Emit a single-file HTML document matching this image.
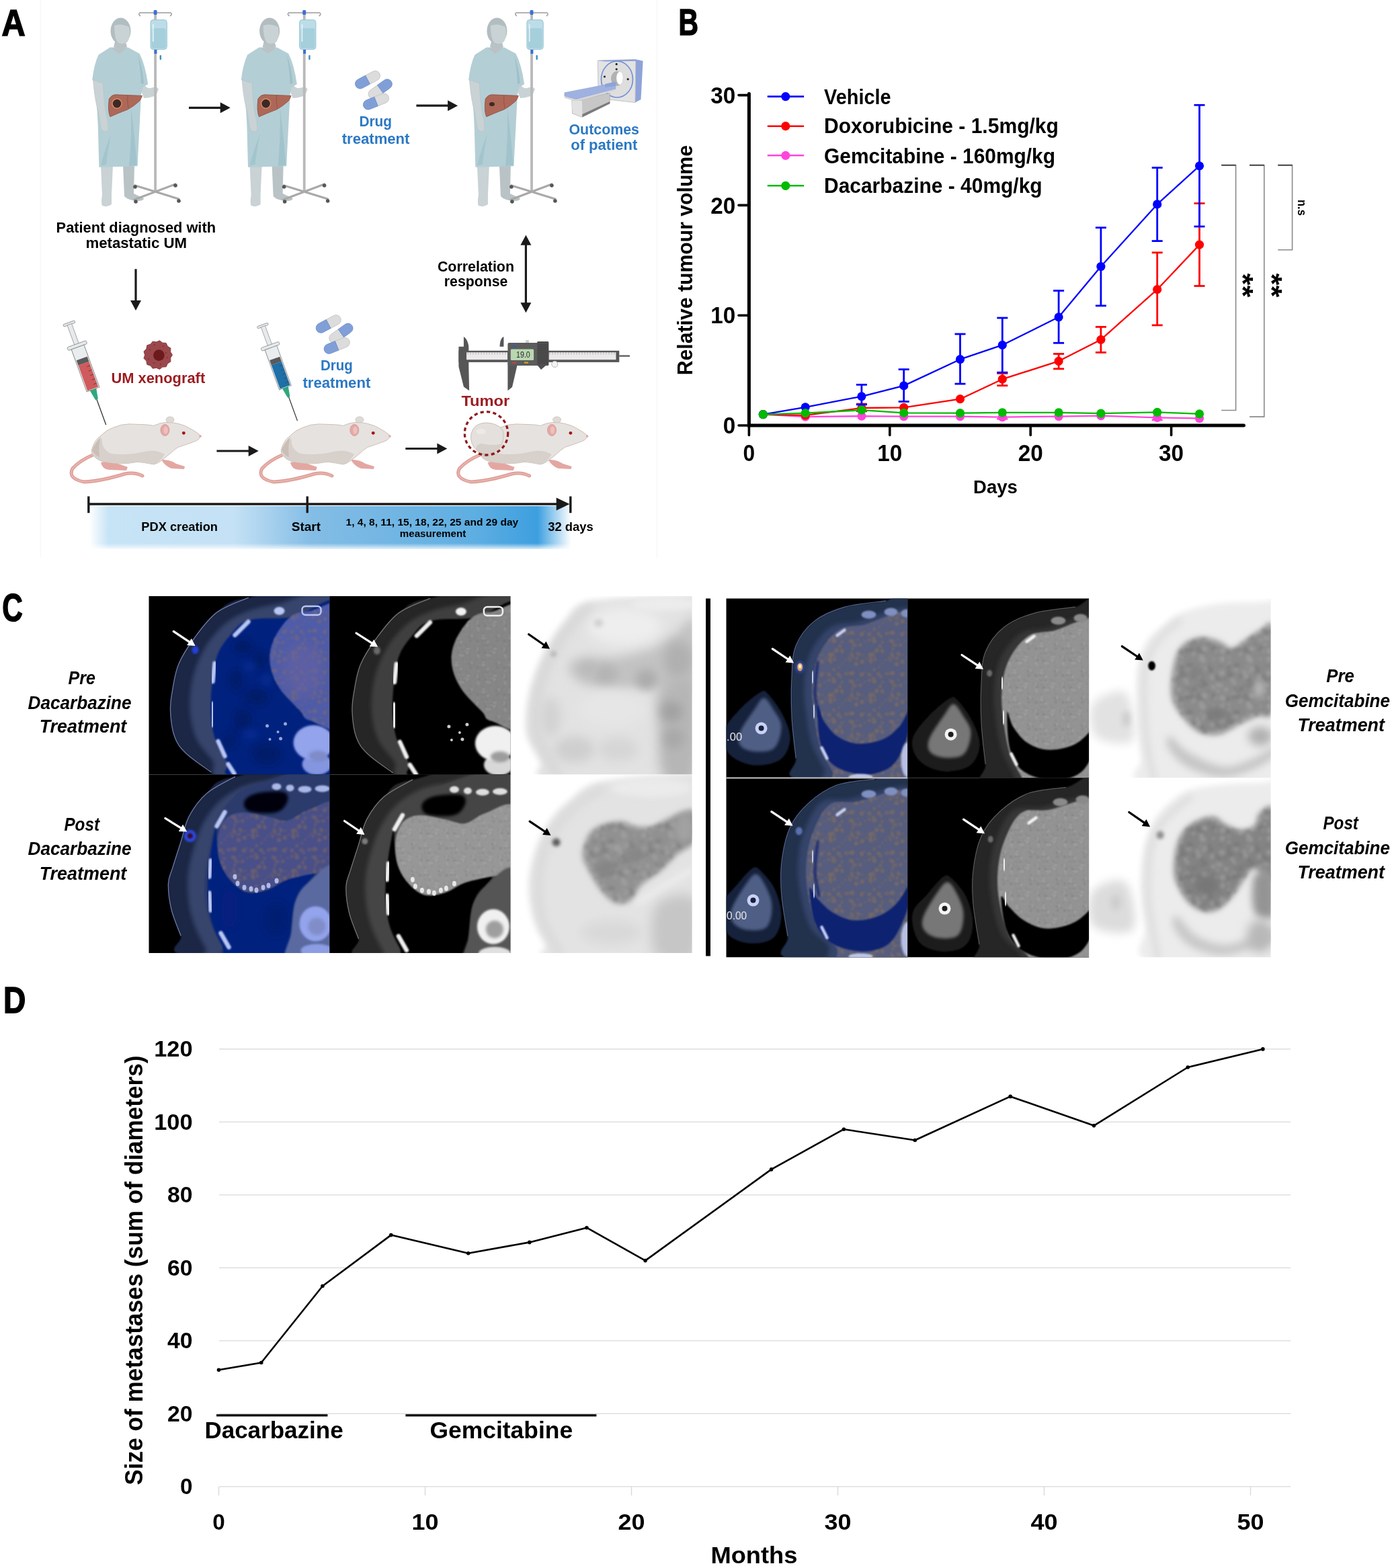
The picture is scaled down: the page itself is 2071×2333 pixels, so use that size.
<!DOCTYPE html>
<html><head><meta charset="utf-8"><title>Figure</title>
<style>
html,body{margin:0;padding:0;background:#fff;}
body{width:2071px;height:2333px;overflow:hidden;}
svg{display:block;font-family:'Liberation Sans', Arial, sans-serif;}
</style></head><body>
<svg xmlns="http://www.w3.org/2000/svg" width="2071" height="2333" viewBox="0 0 2071 2333">
<rect width="2071" height="2333" fill="#fff"/>
<text x="2.5" y="52.5" font-size="56" font-weight="bold" text-anchor="start" fill="#000" textLength="35.2" lengthAdjust="spacingAndGlyphs" stroke="#000" stroke-width="1.6">A</text>
<text x="1009.5" y="52.3" font-size="56" font-weight="bold" text-anchor="start" fill="#000" textLength="29.5" lengthAdjust="spacingAndGlyphs" stroke="#000" stroke-width="1.6">B</text>
<text x="3.2" y="923.6" font-size="58" font-weight="bold" text-anchor="start" fill="#000" textLength="30.5" lengthAdjust="spacingAndGlyphs" stroke="#000" stroke-width="1.6">C</text>
<text x="5.0" y="1506.7" font-size="56" font-weight="bold" text-anchor="start" fill="#000" textLength="33.4" lengthAdjust="spacingAndGlyphs" stroke="#000" stroke-width="1.6">D</text>
<g id="panelB"><path d="M1114.4,139.5 L1114.4,633 L1850.5,633" fill="none" stroke="#000" stroke-width="5" stroke-linecap="round" stroke-linejoin="miter"/>
<line x1="1099" y1="633.0" x2="1114" y2="633.0" stroke="#000" stroke-width="3.6" stroke-linecap="round"/>
<line x1="1099" y1="469.2" x2="1114" y2="469.2" stroke="#000" stroke-width="3.6" stroke-linecap="round"/>
<line x1="1099" y1="305.4" x2="1114" y2="305.4" stroke="#000" stroke-width="3.6" stroke-linecap="round"/>
<line x1="1099" y1="141.6" x2="1114" y2="141.6" stroke="#000" stroke-width="3.6" stroke-linecap="round"/>
<line x1="1114.4" y1="633" x2="1114.4" y2="647.5" stroke="#000" stroke-width="3.6" stroke-linecap="round"/>
<line x1="1323.8" y1="633" x2="1323.8" y2="647.5" stroke="#000" stroke-width="3.6" stroke-linecap="round"/>
<line x1="1533.2" y1="633" x2="1533.2" y2="647.5" stroke="#000" stroke-width="3.6" stroke-linecap="round"/>
<line x1="1742.6" y1="633" x2="1742.6" y2="647.5" stroke="#000" stroke-width="3.6" stroke-linecap="round"/>
<text x="1094.2" y="645.2" font-size="34.5" font-weight="bold" text-anchor="end" fill="#000" textLength="18.5" lengthAdjust="spacingAndGlyphs">0</text>
<text x="1094.2" y="481.4" font-size="34.5" font-weight="bold" text-anchor="end" fill="#000" textLength="37.0" lengthAdjust="spacingAndGlyphs">10</text>
<text x="1094.2" y="317.6" font-size="34.5" font-weight="bold" text-anchor="end" fill="#000" textLength="37.0" lengthAdjust="spacingAndGlyphs">20</text>
<text x="1094.2" y="153.8" font-size="34.5" font-weight="bold" text-anchor="end" fill="#000" textLength="37.0" lengthAdjust="spacingAndGlyphs">30</text>
<text x="1114.4" y="686.3" font-size="34.5" font-weight="bold" text-anchor="middle" fill="#000" textLength="17.6" lengthAdjust="spacingAndGlyphs">0</text>
<text x="1323.8" y="686.3" font-size="34.5" font-weight="bold" text-anchor="middle" fill="#000" textLength="37.0" lengthAdjust="spacingAndGlyphs">10</text>
<text x="1533.2" y="686.3" font-size="34.5" font-weight="bold" text-anchor="middle" fill="#000" textLength="37.0" lengthAdjust="spacingAndGlyphs">20</text>
<text x="1742.6" y="686.3" font-size="34.5" font-weight="bold" text-anchor="middle" fill="#000" textLength="37.0" lengthAdjust="spacingAndGlyphs">30</text>
<text x="1448.1" y="733.5" font-size="27" font-weight="bold" text-anchor="start" fill="#000" textLength="65.8" lengthAdjust="spacingAndGlyphs">Days</text>
<text transform="translate(1030.1,558.3) rotate(-90)" font-size="31" font-weight="bold" textLength="342.3" lengthAdjust="spacingAndGlyphs">Relative tumour volume</text>
<polyline points="1135.3,616.6 1198.2,620.2 1281.9,619.1 1344.7,619.7 1428.5,619.7 1491.3,620.6 1575.1,619.6 1637.9,618.7 1721.7,621.4 1784.5,622.5" fill="none" stroke="#ff44dd" stroke-width="2.3" stroke-linejoin="round"/>
<line x1="1491.3" y1="620.6" x2="1491.3" y2="623.2" stroke="#ff44dd" stroke-width="2.8"/>
<line x1="1483.3" y1="623.2" x2="1499.3" y2="623.2" stroke="#ff44dd" stroke-width="2.8"/>
<line x1="1721.7" y1="621.4" x2="1721.7" y2="624.8" stroke="#ff44dd" stroke-width="2.8"/>
<line x1="1713.7" y1="624.8" x2="1729.7" y2="624.8" stroke="#ff44dd" stroke-width="2.8"/>
<circle cx="1135.3" cy="616.6" r="6.6" fill="#ff44dd"/>
<circle cx="1198.2" cy="620.2" r="6.6" fill="#ff44dd"/>
<circle cx="1281.9" cy="619.1" r="6.6" fill="#ff44dd"/>
<circle cx="1344.7" cy="619.7" r="6.6" fill="#ff44dd"/>
<circle cx="1428.5" cy="619.7" r="6.6" fill="#ff44dd"/>
<circle cx="1491.3" cy="620.6" r="6.6" fill="#ff44dd"/>
<circle cx="1575.1" cy="619.6" r="6.6" fill="#ff44dd"/>
<circle cx="1637.9" cy="618.7" r="6.6" fill="#ff44dd"/>
<circle cx="1721.7" cy="621.4" r="6.6" fill="#ff44dd"/>
<circle cx="1784.5" cy="622.5" r="6.6" fill="#ff44dd"/>
<polyline points="1135.3,616.6 1198.2,617.9 1281.9,607.0 1344.7,606.3 1428.5,593.7 1491.3,564.2 1575.1,537.3 1637.9,505.4 1721.7,430.7 1784.5,364.2" fill="none" stroke="#ff0000" stroke-width="2.3" stroke-linejoin="round"/>
<line x1="1281.9" y1="607.0" x2="1281.9" y2="601.1" stroke="#ff0000" stroke-width="2.8"/>
<line x1="1273.9" y1="601.1" x2="1289.9" y2="601.1" stroke="#ff0000" stroke-width="2.8"/>
<line x1="1281.9" y1="607.0" x2="1281.9" y2="611.7" stroke="#ff0000" stroke-width="2.8"/>
<line x1="1273.9" y1="611.7" x2="1289.9" y2="611.7" stroke="#ff0000" stroke-width="2.8"/>
<line x1="1491.3" y1="564.2" x2="1491.3" y2="555.5" stroke="#ff0000" stroke-width="2.8"/>
<line x1="1483.3" y1="555.5" x2="1499.3" y2="555.5" stroke="#ff0000" stroke-width="2.8"/>
<line x1="1491.3" y1="564.2" x2="1491.3" y2="573.7" stroke="#ff0000" stroke-width="2.8"/>
<line x1="1483.3" y1="573.7" x2="1499.3" y2="573.7" stroke="#ff0000" stroke-width="2.8"/>
<line x1="1575.1" y1="537.3" x2="1575.1" y2="526.5" stroke="#ff0000" stroke-width="2.8"/>
<line x1="1567.1" y1="526.5" x2="1583.1" y2="526.5" stroke="#ff0000" stroke-width="2.8"/>
<line x1="1575.1" y1="537.3" x2="1575.1" y2="548.8" stroke="#ff0000" stroke-width="2.8"/>
<line x1="1567.1" y1="548.8" x2="1583.1" y2="548.8" stroke="#ff0000" stroke-width="2.8"/>
<line x1="1637.9" y1="505.4" x2="1637.9" y2="486.4" stroke="#ff0000" stroke-width="2.8"/>
<line x1="1629.9" y1="486.4" x2="1645.9" y2="486.4" stroke="#ff0000" stroke-width="2.8"/>
<line x1="1637.9" y1="505.4" x2="1637.9" y2="524.4" stroke="#ff0000" stroke-width="2.8"/>
<line x1="1629.9" y1="524.4" x2="1645.9" y2="524.4" stroke="#ff0000" stroke-width="2.8"/>
<line x1="1721.7" y1="430.7" x2="1721.7" y2="375.8" stroke="#ff0000" stroke-width="2.8"/>
<line x1="1713.7" y1="375.8" x2="1729.7" y2="375.8" stroke="#ff0000" stroke-width="2.8"/>
<line x1="1721.7" y1="430.7" x2="1721.7" y2="483.9" stroke="#ff0000" stroke-width="2.8"/>
<line x1="1713.7" y1="483.9" x2="1729.7" y2="483.9" stroke="#ff0000" stroke-width="2.8"/>
<line x1="1784.5" y1="364.2" x2="1784.5" y2="302.6" stroke="#ff0000" stroke-width="2.8"/>
<line x1="1776.5" y1="302.6" x2="1792.5" y2="302.6" stroke="#ff0000" stroke-width="2.8"/>
<line x1="1784.5" y1="364.2" x2="1784.5" y2="425.5" stroke="#ff0000" stroke-width="2.8"/>
<line x1="1776.5" y1="425.5" x2="1792.5" y2="425.5" stroke="#ff0000" stroke-width="2.8"/>
<circle cx="1135.3" cy="616.6" r="6.6" fill="#ff0000"/>
<circle cx="1198.2" cy="617.9" r="6.6" fill="#ff0000"/>
<circle cx="1281.9" cy="607.0" r="6.6" fill="#ff0000"/>
<circle cx="1344.7" cy="606.3" r="6.6" fill="#ff0000"/>
<circle cx="1428.5" cy="593.7" r="6.6" fill="#ff0000"/>
<circle cx="1491.3" cy="564.2" r="6.6" fill="#ff0000"/>
<circle cx="1575.1" cy="537.3" r="6.6" fill="#ff0000"/>
<circle cx="1637.9" cy="505.4" r="6.6" fill="#ff0000"/>
<circle cx="1721.7" cy="430.7" r="6.6" fill="#ff0000"/>
<circle cx="1784.5" cy="364.2" r="6.6" fill="#ff0000"/>
<polyline points="1135.3,616.6 1198.2,605.8 1281.9,589.8 1344.7,573.9 1428.5,534.7 1491.3,513.4 1575.1,471.8 1637.9,396.5 1721.7,303.9 1784.5,246.8" fill="none" stroke="#0000ff" stroke-width="2.3" stroke-linejoin="round"/>
<line x1="1281.9" y1="589.8" x2="1281.9" y2="572.4" stroke="#0000ff" stroke-width="2.8"/>
<line x1="1273.9" y1="572.4" x2="1289.9" y2="572.4" stroke="#0000ff" stroke-width="2.8"/>
<line x1="1281.9" y1="589.8" x2="1281.9" y2="601.9" stroke="#0000ff" stroke-width="2.8"/>
<line x1="1273.9" y1="601.9" x2="1289.9" y2="601.9" stroke="#0000ff" stroke-width="2.8"/>
<line x1="1344.7" y1="573.9" x2="1344.7" y2="549.6" stroke="#0000ff" stroke-width="2.8"/>
<line x1="1336.7" y1="549.6" x2="1352.7" y2="549.6" stroke="#0000ff" stroke-width="2.8"/>
<line x1="1344.7" y1="573.9" x2="1344.7" y2="597.5" stroke="#0000ff" stroke-width="2.8"/>
<line x1="1336.7" y1="597.5" x2="1352.7" y2="597.5" stroke="#0000ff" stroke-width="2.8"/>
<line x1="1428.5" y1="534.7" x2="1428.5" y2="497.0" stroke="#0000ff" stroke-width="2.8"/>
<line x1="1420.5" y1="497.0" x2="1436.5" y2="497.0" stroke="#0000ff" stroke-width="2.8"/>
<line x1="1428.5" y1="534.7" x2="1428.5" y2="571.1" stroke="#0000ff" stroke-width="2.8"/>
<line x1="1420.5" y1="571.1" x2="1436.5" y2="571.1" stroke="#0000ff" stroke-width="2.8"/>
<line x1="1491.3" y1="513.4" x2="1491.3" y2="473.0" stroke="#0000ff" stroke-width="2.8"/>
<line x1="1483.3" y1="473.0" x2="1499.3" y2="473.0" stroke="#0000ff" stroke-width="2.8"/>
<line x1="1491.3" y1="513.4" x2="1491.3" y2="554.2" stroke="#0000ff" stroke-width="2.8"/>
<line x1="1483.3" y1="554.2" x2="1499.3" y2="554.2" stroke="#0000ff" stroke-width="2.8"/>
<line x1="1575.1" y1="471.8" x2="1575.1" y2="432.5" stroke="#0000ff" stroke-width="2.8"/>
<line x1="1567.1" y1="432.5" x2="1583.1" y2="432.5" stroke="#0000ff" stroke-width="2.8"/>
<line x1="1575.1" y1="471.8" x2="1575.1" y2="510.3" stroke="#0000ff" stroke-width="2.8"/>
<line x1="1567.1" y1="510.3" x2="1583.1" y2="510.3" stroke="#0000ff" stroke-width="2.8"/>
<line x1="1637.9" y1="396.5" x2="1637.9" y2="338.7" stroke="#0000ff" stroke-width="2.8"/>
<line x1="1629.9" y1="338.7" x2="1645.9" y2="338.7" stroke="#0000ff" stroke-width="2.8"/>
<line x1="1637.9" y1="396.5" x2="1637.9" y2="454.9" stroke="#0000ff" stroke-width="2.8"/>
<line x1="1629.9" y1="454.9" x2="1645.9" y2="454.9" stroke="#0000ff" stroke-width="2.8"/>
<line x1="1721.7" y1="303.9" x2="1721.7" y2="249.5" stroke="#0000ff" stroke-width="2.8"/>
<line x1="1713.7" y1="249.5" x2="1729.7" y2="249.5" stroke="#0000ff" stroke-width="2.8"/>
<line x1="1721.7" y1="303.9" x2="1721.7" y2="358.6" stroke="#0000ff" stroke-width="2.8"/>
<line x1="1713.7" y1="358.6" x2="1729.7" y2="358.6" stroke="#0000ff" stroke-width="2.8"/>
<line x1="1784.5" y1="246.8" x2="1784.5" y2="156.3" stroke="#0000ff" stroke-width="2.8"/>
<line x1="1776.5" y1="156.3" x2="1792.5" y2="156.3" stroke="#0000ff" stroke-width="2.8"/>
<line x1="1784.5" y1="246.8" x2="1784.5" y2="337.0" stroke="#0000ff" stroke-width="2.8"/>
<line x1="1776.5" y1="337.0" x2="1792.5" y2="337.0" stroke="#0000ff" stroke-width="2.8"/>
<circle cx="1135.3" cy="616.6" r="6.6" fill="#0000ff"/>
<circle cx="1198.2" cy="605.8" r="6.6" fill="#0000ff"/>
<circle cx="1281.9" cy="589.8" r="6.6" fill="#0000ff"/>
<circle cx="1344.7" cy="573.9" r="6.6" fill="#0000ff"/>
<circle cx="1428.5" cy="534.7" r="6.6" fill="#0000ff"/>
<circle cx="1491.3" cy="513.4" r="6.6" fill="#0000ff"/>
<circle cx="1575.1" cy="471.8" r="6.6" fill="#0000ff"/>
<circle cx="1637.9" cy="396.5" r="6.6" fill="#0000ff"/>
<circle cx="1721.7" cy="303.9" r="6.6" fill="#0000ff"/>
<circle cx="1784.5" cy="246.8" r="6.6" fill="#0000ff"/>
<polyline points="1135.3,616.6 1198.2,614.7 1281.9,610.2 1344.7,614.3 1428.5,614.7 1491.3,613.8 1575.1,613.8 1637.9,615.1 1721.7,613.3 1784.5,615.8" fill="none" stroke="#00bb00" stroke-width="2.3" stroke-linejoin="round"/>
<circle cx="1135.3" cy="616.6" r="6.6" fill="#00bb00"/>
<circle cx="1198.2" cy="614.7" r="6.6" fill="#00bb00"/>
<circle cx="1281.9" cy="610.2" r="6.6" fill="#00bb00"/>
<circle cx="1344.7" cy="614.3" r="6.6" fill="#00bb00"/>
<circle cx="1428.5" cy="614.7" r="6.6" fill="#00bb00"/>
<circle cx="1491.3" cy="613.8" r="6.6" fill="#00bb00"/>
<circle cx="1575.1" cy="613.8" r="6.6" fill="#00bb00"/>
<circle cx="1637.9" cy="615.1" r="6.6" fill="#00bb00"/>
<circle cx="1721.7" cy="613.3" r="6.6" fill="#00bb00"/>
<circle cx="1784.5" cy="615.8" r="6.6" fill="#00bb00"/>
<line x1="1141.8" y1="143.6" x2="1196.1" y2="143.6" stroke="#0000ff" stroke-width="2.6"/>
<circle cx="1168.8" cy="143.6" r="6.6" fill="#0000ff"/>
<text x="1226.0" y="154.8" font-size="31.5" font-weight="bold" text-anchor="start" fill="#000" textLength="99.7" lengthAdjust="spacingAndGlyphs">Vehicle</text>
<line x1="1141.8" y1="187.7" x2="1196.1" y2="187.7" stroke="#ff0000" stroke-width="2.6"/>
<circle cx="1168.8" cy="187.7" r="6.6" fill="#ff0000"/>
<text x="1226.0" y="198.2" font-size="31.5" font-weight="bold" text-anchor="start" fill="#000" textLength="348.9" lengthAdjust="spacingAndGlyphs">Doxorubicine - 1.5mg/kg</text>
<line x1="1141.8" y1="231.3" x2="1196.1" y2="231.3" stroke="#ff44dd" stroke-width="2.6"/>
<circle cx="1168.8" cy="231.3" r="6.6" fill="#ff44dd"/>
<text x="1226.0" y="243.0" font-size="31.5" font-weight="bold" text-anchor="start" fill="#000" textLength="344.0" lengthAdjust="spacingAndGlyphs">Gemcitabine - 160mg/kg</text>
<line x1="1141.8" y1="276.3" x2="1196.1" y2="276.3" stroke="#00bb00" stroke-width="2.6"/>
<circle cx="1168.8" cy="276.3" r="6.6" fill="#00bb00"/>
<text x="1226.0" y="287.1" font-size="31.5" font-weight="bold" text-anchor="start" fill="#000" textLength="324.6" lengthAdjust="spacingAndGlyphs">Dacarbazine - 40mg/kg</text>
<path d="M1817.2,245.8 H1838.6 V610.5 H1817.2" fill="none" stroke="#8a8a8a" stroke-width="1.6"/>
<path d="M1859.1,245.8 H1880.8 V620.1 H1859.1" fill="none" stroke="#8a8a8a" stroke-width="1.6"/>
<path d="M1901.3,245.8 H1922.6 V371.7 H1901.3" fill="none" stroke="#8a8a8a" stroke-width="1.6"/>
<path d="M1817.2,245.8 H1838.6 M1859.1,245.8 H1880.8 M1901.3,245.8 H1922.6" fill="none" stroke="#444" stroke-width="2"/>
<text transform="translate(1834.5,406.5) rotate(90)" font-size="43" font-weight="bold" textLength="35.8" lengthAdjust="spacingAndGlyphs">**</text>
<text transform="translate(1877.5,406.5) rotate(90)" font-size="43" font-weight="bold" textLength="35.8" lengthAdjust="spacingAndGlyphs">**</text>
<text transform="translate(1931,296.9) rotate(90)" font-size="19" font-weight="bold" textLength="24" lengthAdjust="spacingAndGlyphs">n.s</text></g>
<g id="panelD"><line x1="326" y1="2211.9" x2="1920" y2="2211.9" stroke="#d9d9d9" stroke-width="1.4"/>
<line x1="326" y1="2103.4" x2="1920" y2="2103.4" stroke="#d9d9d9" stroke-width="1.4"/>
<line x1="326" y1="1994.9" x2="1920" y2="1994.9" stroke="#d9d9d9" stroke-width="1.4"/>
<line x1="326" y1="1886.4" x2="1920" y2="1886.4" stroke="#d9d9d9" stroke-width="1.4"/>
<line x1="326" y1="1777.9" x2="1920" y2="1777.9" stroke="#d9d9d9" stroke-width="1.4"/>
<line x1="326" y1="1669.4" x2="1920" y2="1669.4" stroke="#d9d9d9" stroke-width="1.4"/>
<line x1="326" y1="1560.9" x2="1920" y2="1560.9" stroke="#d9d9d9" stroke-width="1.4"/>
<line x1="325.5" y1="2212" x2="325.5" y2="2225" stroke="#d9d9d9" stroke-width="1.4"/>
<line x1="632.5" y1="2212" x2="632.5" y2="2225" stroke="#d9d9d9" stroke-width="1.4"/>
<line x1="939.5" y1="2212" x2="939.5" y2="2225" stroke="#d9d9d9" stroke-width="1.4"/>
<line x1="1246.5" y1="2212" x2="1246.5" y2="2225" stroke="#d9d9d9" stroke-width="1.4"/>
<line x1="1553.5" y1="2212" x2="1553.5" y2="2225" stroke="#d9d9d9" stroke-width="1.4"/>
<line x1="1860.5" y1="2212" x2="1860.5" y2="2225" stroke="#d9d9d9" stroke-width="1.4"/>
<text x="286.5" y="2223.4" font-size="33" font-weight="bold" text-anchor="end" fill="#000" textLength="18.5" lengthAdjust="spacingAndGlyphs">0</text>
<text x="286.5" y="2114.9" font-size="33" font-weight="bold" text-anchor="end" fill="#000" textLength="37.5" lengthAdjust="spacingAndGlyphs">20</text>
<text x="286.5" y="2006.4" font-size="33" font-weight="bold" text-anchor="end" fill="#000" textLength="37.5" lengthAdjust="spacingAndGlyphs">40</text>
<text x="286.5" y="1897.9" font-size="33" font-weight="bold" text-anchor="end" fill="#000" textLength="37.5" lengthAdjust="spacingAndGlyphs">60</text>
<text x="286.5" y="1789.4" font-size="33" font-weight="bold" text-anchor="end" fill="#000" textLength="37.5" lengthAdjust="spacingAndGlyphs">80</text>
<text x="286.5" y="1680.9" font-size="33" font-weight="bold" text-anchor="end" fill="#000" textLength="57.3" lengthAdjust="spacingAndGlyphs">100</text>
<text x="286.5" y="1572.4" font-size="33" font-weight="bold" text-anchor="end" fill="#000" textLength="57.3" lengthAdjust="spacingAndGlyphs">120</text>
<text x="325.5" y="2275.5" font-size="33" font-weight="bold" text-anchor="middle" fill="#000" textLength="18.5" lengthAdjust="spacingAndGlyphs">0</text>
<text x="632.5" y="2275.5" font-size="33" font-weight="bold" text-anchor="middle" fill="#000" textLength="40.0" lengthAdjust="spacingAndGlyphs">10</text>
<text x="939.5" y="2275.5" font-size="33" font-weight="bold" text-anchor="middle" fill="#000" textLength="40.0" lengthAdjust="spacingAndGlyphs">20</text>
<text x="1246.5" y="2275.5" font-size="33" font-weight="bold" text-anchor="middle" fill="#000" textLength="40.0" lengthAdjust="spacingAndGlyphs">30</text>
<text x="1553.5" y="2275.5" font-size="33" font-weight="bold" text-anchor="middle" fill="#000" textLength="40.0" lengthAdjust="spacingAndGlyphs">40</text>
<text x="1860.5" y="2275.5" font-size="33" font-weight="bold" text-anchor="middle" fill="#000" textLength="40.0" lengthAdjust="spacingAndGlyphs">50</text>
<text x="1057.4" y="2325.5" font-size="35" font-weight="bold" text-anchor="start" fill="#000" textLength="129.1" lengthAdjust="spacingAndGlyphs">Months</text>
<text transform="translate(212.3,2209.7) rotate(-90)" font-size="36" font-weight="bold" textLength="639.3" lengthAdjust="spacingAndGlyphs">Size of metastases (sum of diameters)</text>
<polyline points="325.5,2038.3 388.7,2027.5 479.9,1913.5 581.8,1837.6 696.7,1864.7 787.8,1848.4 872.9,1826.7 960.1,1875.6 1147.6,1739.9 1255.4,1680.2 1361.3,1696.5 1503.2,1631.4 1627.5,1674.8 1767.2,1588.0 1878.9,1560.9" fill="none" stroke="#000" stroke-width="2.6" stroke-linejoin="round"/>
<circle cx="325.5" cy="2038.3" r="2.8" fill="#000"/>
<circle cx="388.7" cy="2027.5" r="2.8" fill="#000"/>
<circle cx="479.9" cy="1913.5" r="2.8" fill="#000"/>
<circle cx="581.8" cy="1837.6" r="2.8" fill="#000"/>
<circle cx="696.7" cy="1864.7" r="2.8" fill="#000"/>
<circle cx="787.8" cy="1848.4" r="2.8" fill="#000"/>
<circle cx="872.9" cy="1826.7" r="2.8" fill="#000"/>
<circle cx="960.1" cy="1875.6" r="2.8" fill="#000"/>
<circle cx="1147.6" cy="1739.9" r="2.8" fill="#000"/>
<circle cx="1255.4" cy="1680.2" r="2.8" fill="#000"/>
<circle cx="1361.3" cy="1696.5" r="2.8" fill="#000"/>
<circle cx="1503.2" cy="1631.4" r="2.8" fill="#000"/>
<circle cx="1627.5" cy="1674.8" r="2.8" fill="#000"/>
<circle cx="1767.2" cy="1588.0" r="2.8" fill="#000"/>
<circle cx="1878.9" cy="1560.9" r="2.8" fill="#000"/>
<line x1="322" y1="2105.8" x2="487.4" y2="2105.8" stroke="#000" stroke-width="3.2"/>
<line x1="603.4" y1="2105.8" x2="887.4" y2="2105.8" stroke="#000" stroke-width="3.2"/>
<text x="304.4" y="2139.7" font-size="35" font-weight="bold" text-anchor="start" fill="#000" textLength="206.3" lengthAdjust="spacingAndGlyphs">Dacarbazine</text>
<text x="639.5" y="2139.7" font-size="35" font-weight="bold" text-anchor="start" fill="#000" textLength="212.6" lengthAdjust="spacingAndGlyphs">Gemcitabine</text></g>
<g id="panelC"><defs><filter id="b0.8" x="-50%" y="-50%" width="200%" height="200%"><feGaussianBlur stdDeviation="0.8"/></filter><filter id="b1" x="-50%" y="-50%" width="200%" height="200%"><feGaussianBlur stdDeviation="1"/></filter><filter id="b1.2" x="-50%" y="-50%" width="200%" height="200%"><feGaussianBlur stdDeviation="1.2"/></filter><filter id="b1.5" x="-50%" y="-50%" width="200%" height="200%"><feGaussianBlur stdDeviation="1.5"/></filter><filter id="b1.8" x="-50%" y="-50%" width="200%" height="200%"><feGaussianBlur stdDeviation="1.8"/></filter><filter id="b2" x="-50%" y="-50%" width="200%" height="200%"><feGaussianBlur stdDeviation="2"/></filter><filter id="b2.5" x="-50%" y="-50%" width="200%" height="200%"><feGaussianBlur stdDeviation="2.5"/></filter><filter id="b3" x="-50%" y="-50%" width="200%" height="200%"><feGaussianBlur stdDeviation="3"/></filter><filter id="b4" x="-50%" y="-50%" width="200%" height="200%"><feGaussianBlur stdDeviation="4"/></filter><filter id="b5" x="-50%" y="-50%" width="200%" height="200%"><feGaussianBlur stdDeviation="5"/></filter><filter id="b6" x="-50%" y="-50%" width="200%" height="200%"><feGaussianBlur stdDeviation="6"/></filter><filter id="b7" x="-50%" y="-50%" width="200%" height="200%"><feGaussianBlur stdDeviation="7"/></filter><filter id="b8" x="-50%" y="-50%" width="200%" height="200%"><feGaussianBlur stdDeviation="8"/></filter><filter id="b9" x="-50%" y="-50%" width="200%" height="200%"><feGaussianBlur stdDeviation="9"/></filter><filter id="b10" x="-50%" y="-50%" width="200%" height="200%"><feGaussianBlur stdDeviation="10"/></filter><filter id="b12" x="-50%" y="-50%" width="200%" height="200%"><feGaussianBlur stdDeviation="12"/></filter><pattern id="livtex" x="0" y="0" width="60" height="60" patternUnits="userSpaceOnUse"><circle cx="19.4" cy="9.1" r="2.5" fill="#a07848"/><circle cx="4.3" cy="32.2" r="1.9" fill="#a07848"/><circle cx="3.5" cy="30.4" r="1.3" fill="#a07848"/><circle cx="26.0" cy="4.2" r="1.4" fill="#a07848"/><circle cx="25.5" cy="49.6" r="1.4" fill="#a07848"/><circle cx="13.4" cy="37.6" r="3.1" fill="#a07848"/><circle cx="34.6" cy="23.8" r="3.2" fill="#a07848"/><circle cx="2.8" cy="51.5" r="1.8" fill="#a07848"/><circle cx="8.7" cy="7.1" r="1.8" fill="#a07848"/><circle cx="49.0" cy="10.8" r="2.4" fill="#a07848"/><circle cx="38.3" cy="22.3" r="2.3" fill="#a07848"/><circle cx="3.8" cy="3.6" r="1.6" fill="#a07848"/><circle cx="40.8" cy="25.7" r="1.8" fill="#a07848"/><circle cx="35.1" cy="27.2" r="1.8" fill="#a07848"/><circle cx="47.7" cy="41.9" r="1.7" fill="#a07848"/><circle cx="34.5" cy="31.5" r="3.0" fill="#a07848"/><circle cx="43.8" cy="17.3" r="3.2" fill="#a07848"/><circle cx="7.1" cy="25.1" r="2.7" fill="#a07848"/><circle cx="9.1" cy="29.3" r="1.3" fill="#a07848"/><circle cx="40.1" cy="45.9" r="2.3" fill="#a07848"/><circle cx="52.5" cy="18.8" r="2.6" fill="#a07848"/><circle cx="35.7" cy="34.8" r="2.1" fill="#a07848"/><circle cx="50.4" cy="56.7" r="2.1" fill="#a07848"/><circle cx="39.8" cy="3.6" r="2.6" fill="#a07848"/><circle cx="38.8" cy="59.6" r="2.8" fill="#a07848"/><circle cx="17.1" cy="23.1" r="2.5" fill="#a07848"/><circle cx="1.4" cy="27.7" r="1.5" fill="#a07848"/><circle cx="7.0" cy="3.5" r="2.7" fill="#a07848"/><circle cx="7.8" cy="14.9" r="2.0" fill="#a07848"/><circle cx="52.3" cy="4.8" r="2.1" fill="#a07848"/><circle cx="33.0" cy="53.0" r="2.8" fill="#a07848"/><circle cx="51.8" cy="16.7" r="2.0" fill="#a07848"/><circle cx="21.5" cy="53.1" r="3.1" fill="#a07848"/><circle cx="9.1" cy="10.6" r="1.7" fill="#a07848"/><circle cx="14.0" cy="29.1" r="2.4" fill="#a07848"/><circle cx="15.8" cy="0.2" r="2.0" fill="#a07848"/><circle cx="22.2" cy="34.0" r="3.1" fill="#a07848"/><circle cx="41.4" cy="30.9" r="2.4" fill="#a07848"/><circle cx="40.6" cy="3.2" r="3.0" fill="#a07848"/><circle cx="46.8" cy="52.5" r="2.8" fill="#a07848"/><circle cx="23.5" cy="23.9" r="1.4" fill="#a07848"/><circle cx="38.1" cy="3.7" r="1.3" fill="#a07848"/><circle cx="12.5" cy="9.7" r="1.9" fill="#a07848"/><circle cx="3.2" cy="0.0" r="1.5" fill="#a07848"/><circle cx="6.1" cy="21.8" r="1.3" fill="#a07848"/><circle cx="52.5" cy="36.8" r="1.5" fill="#a07848"/><circle cx="15.1" cy="20.8" r="1.9" fill="#a07848"/><circle cx="7.4" cy="50.9" r="3.2" fill="#a07848"/><circle cx="28.0" cy="29.0" r="1.4" fill="#a07848"/><circle cx="6.1" cy="20.6" r="1.7" fill="#a07848"/><circle cx="49.7" cy="9.7" r="1.2" fill="#a07848"/><circle cx="57.1" cy="31.7" r="1.5" fill="#a07848"/><circle cx="32.6" cy="1.6" r="2.3" fill="#a07848"/><circle cx="58.7" cy="51.8" r="2.6" fill="#a07848"/><circle cx="15.7" cy="22.0" r="1.5" fill="#a07848"/></pattern><pattern id="cttex" x="0" y="0" width="40" height="40" patternUnits="userSpaceOnUse"><circle cx="30.9" cy="21.3" r="1.4" fill="#c0c0c0"/><circle cx="25.5" cy="24.5" r="1.4" fill="#6a6a6a"/><circle cx="32.2" cy="32.7" r="1.3" fill="#6a6a6a"/><circle cx="8.0" cy="19.7" r="1.3" fill="#6a6a6a"/><circle cx="31.6" cy="18.9" r="0.8" fill="#c0c0c0"/><circle cx="17.9" cy="37.5" r="1.6" fill="#c0c0c0"/><circle cx="3.2" cy="4.1" r="1.1" fill="#c0c0c0"/><circle cx="8.2" cy="25.0" r="1.5" fill="#6a6a6a"/><circle cx="19.2" cy="26.1" r="1.4" fill="#6a6a6a"/><circle cx="33.4" cy="4.8" r="1.0" fill="#6a6a6a"/><circle cx="19.1" cy="7.1" r="1.4" fill="#c0c0c0"/><circle cx="3.5" cy="37.8" r="1.3" fill="#c0c0c0"/><circle cx="16.1" cy="37.9" r="1.3" fill="#6a6a6a"/><circle cx="39.7" cy="1.1" r="1.2" fill="#c0c0c0"/><circle cx="32.3" cy="5.8" r="1.4" fill="#c0c0c0"/><circle cx="26.3" cy="14.0" r="1.1" fill="#6a6a6a"/><circle cx="0.9" cy="32.0" r="1.3" fill="#6a6a6a"/><circle cx="21.1" cy="37.3" r="1.0" fill="#6a6a6a"/><circle cx="33.0" cy="8.4" r="0.9" fill="#c0c0c0"/><circle cx="20.0" cy="30.5" r="0.9" fill="#c0c0c0"/><circle cx="33.4" cy="2.4" r="1.3" fill="#c0c0c0"/><circle cx="26.5" cy="32.6" r="1.1" fill="#6a6a6a"/><circle cx="21.3" cy="20.9" r="0.6" fill="#c0c0c0"/><circle cx="31.1" cy="24.3" r="1.4" fill="#6a6a6a"/><circle cx="6.9" cy="18.9" r="1.3" fill="#6a6a6a"/><circle cx="13.0" cy="20.7" r="1.2" fill="#6a6a6a"/><circle cx="35.3" cy="2.3" r="0.8" fill="#6a6a6a"/><circle cx="30.9" cy="20.3" r="1.2" fill="#6a6a6a"/><circle cx="17.7" cy="24.5" r="1.1" fill="#6a6a6a"/><circle cx="27.7" cy="18.1" r="1.1" fill="#c0c0c0"/><circle cx="20.3" cy="9.9" r="1.1" fill="#c0c0c0"/><circle cx="36.9" cy="35.7" r="0.8" fill="#c0c0c0"/><circle cx="5.5" cy="4.9" r="1.0" fill="#6a6a6a"/><circle cx="26.8" cy="17.1" r="0.8" fill="#c0c0c0"/><circle cx="31.4" cy="35.9" r="0.8" fill="#c0c0c0"/><circle cx="5.7" cy="35.3" r="1.6" fill="#6a6a6a"/><circle cx="29.9" cy="3.8" r="1.5" fill="#6a6a6a"/><circle cx="39.6" cy="33.3" r="0.8" fill="#c0c0c0"/><circle cx="39.8" cy="16.2" r="1.0" fill="#c0c0c0"/><circle cx="12.7" cy="28.9" r="0.6" fill="#c0c0c0"/><circle cx="17.6" cy="0.7" r="0.9" fill="#c0c0c0"/><circle cx="20.5" cy="2.6" r="1.6" fill="#6a6a6a"/><circle cx="38.9" cy="4.2" r="0.9" fill="#6a6a6a"/><circle cx="36.2" cy="7.3" r="1.4" fill="#c0c0c0"/><circle cx="34.0" cy="27.0" r="1.5" fill="#c0c0c0"/><circle cx="6.0" cy="36.8" r="1.2" fill="#c0c0c0"/><circle cx="3.6" cy="2.3" r="1.3" fill="#c0c0c0"/><circle cx="35.8" cy="10.8" r="0.6" fill="#6a6a6a"/><circle cx="32.1" cy="3.3" r="1.5" fill="#6a6a6a"/><circle cx="10.6" cy="4.9" r="0.6" fill="#c0c0c0"/><circle cx="37.1" cy="10.7" r="0.7" fill="#6a6a6a"/><circle cx="37.5" cy="38.8" r="0.9" fill="#6a6a6a"/><circle cx="8.1" cy="12.5" r="0.9" fill="#6a6a6a"/><circle cx="11.6" cy="20.0" r="0.8" fill="#c0c0c0"/><circle cx="32.1" cy="39.8" r="0.6" fill="#6a6a6a"/><circle cx="29.3" cy="22.0" r="0.8" fill="#c0c0c0"/><circle cx="9.8" cy="17.9" r="1.3" fill="#c0c0c0"/><circle cx="26.3" cy="21.8" r="1.5" fill="#c0c0c0"/><circle cx="27.5" cy="39.3" r="0.9" fill="#6a6a6a"/><circle cx="16.2" cy="13.9" r="0.7" fill="#6a6a6a"/></pattern><pattern id="pettex" x="0" y="0" width="70" height="70" patternUnits="userSpaceOnUse"><circle cx="1.0" cy="43.8" r="4.2" fill="#6c6c6c"/><circle cx="11.4" cy="5.9" r="4.1" fill="#6c6c6c"/><circle cx="41.9" cy="48.5" r="2.1" fill="#b4b4b4"/><circle cx="11.0" cy="31.2" r="2.7" fill="#6c6c6c"/><circle cx="68.1" cy="38.3" r="2.6" fill="#6c6c6c"/><circle cx="15.3" cy="12.8" r="2.8" fill="#b4b4b4"/><circle cx="33.2" cy="35.2" r="2.5" fill="#b4b4b4"/><circle cx="6.4" cy="57.2" r="2.4" fill="#b4b4b4"/><circle cx="27.6" cy="21.0" r="3.6" fill="#b4b4b4"/><circle cx="41.0" cy="37.0" r="3.9" fill="#6c6c6c"/><circle cx="53.5" cy="50.4" r="3.2" fill="#6c6c6c"/><circle cx="50.7" cy="45.0" r="2.1" fill="#6c6c6c"/><circle cx="51.4" cy="56.9" r="2.3" fill="#b4b4b4"/><circle cx="57.8" cy="40.9" r="4.2" fill="#b4b4b4"/><circle cx="6.0" cy="2.9" r="3.6" fill="#b4b4b4"/><circle cx="26.4" cy="31.6" r="2.1" fill="#b4b4b4"/><circle cx="43.8" cy="47.6" r="3.2" fill="#b4b4b4"/><circle cx="32.0" cy="4.9" r="4.3" fill="#b4b4b4"/><circle cx="46.2" cy="4.6" r="3.8" fill="#6c6c6c"/><circle cx="56.6" cy="59.2" r="2.6" fill="#b4b4b4"/><circle cx="16.2" cy="45.5" r="3.2" fill="#6c6c6c"/><circle cx="5.4" cy="63.7" r="2.7" fill="#b4b4b4"/><circle cx="43.2" cy="45.0" r="2.2" fill="#b4b4b4"/><circle cx="23.2" cy="45.6" r="3.7" fill="#b4b4b4"/><circle cx="0.9" cy="4.2" r="2.7" fill="#b4b4b4"/><circle cx="48.5" cy="47.3" r="2.7" fill="#6c6c6c"/><circle cx="32.5" cy="32.6" r="2.3" fill="#b4b4b4"/><circle cx="21.8" cy="6.0" r="3.2" fill="#6c6c6c"/><circle cx="32.1" cy="57.4" r="4.4" fill="#6c6c6c"/><circle cx="69.6" cy="27.1" r="4.3" fill="#b4b4b4"/><circle cx="5.2" cy="6.3" r="3.9" fill="#6c6c6c"/><circle cx="66.7" cy="9.3" r="4.1" fill="#6c6c6c"/><circle cx="62.1" cy="49.2" r="2.6" fill="#6c6c6c"/><circle cx="27.6" cy="11.1" r="4.4" fill="#6c6c6c"/><circle cx="28.4" cy="50.9" r="3.0" fill="#6c6c6c"/><circle cx="22.1" cy="58.8" r="2.0" fill="#6c6c6c"/><circle cx="58.7" cy="8.4" r="4.3" fill="#b4b4b4"/><circle cx="63.1" cy="20.3" r="2.9" fill="#6c6c6c"/><circle cx="27.3" cy="60.9" r="2.2" fill="#6c6c6c"/><circle cx="52.9" cy="59.8" r="2.7" fill="#b4b4b4"/><circle cx="58.4" cy="20.0" r="4.3" fill="#b4b4b4"/><circle cx="68.0" cy="30.5" r="2.8" fill="#6c6c6c"/><circle cx="55.0" cy="29.9" r="2.1" fill="#6c6c6c"/><circle cx="63.9" cy="65.8" r="3.4" fill="#b4b4b4"/><circle cx="3.5" cy="51.3" r="3.1" fill="#b4b4b4"/><circle cx="45.1" cy="20.0" r="2.1" fill="#b4b4b4"/><circle cx="12.0" cy="29.0" r="2.7" fill="#6c6c6c"/><circle cx="51.7" cy="68.3" r="2.7" fill="#b4b4b4"/><circle cx="21.1" cy="39.0" r="3.0" fill="#b4b4b4"/><circle cx="45.0" cy="5.3" r="3.3" fill="#6c6c6c"/><circle cx="38.5" cy="31.7" r="2.8" fill="#6c6c6c"/><circle cx="29.9" cy="38.3" r="2.6" fill="#b4b4b4"/><circle cx="23.9" cy="6.4" r="2.6" fill="#6c6c6c"/><circle cx="56.7" cy="14.1" r="2.1" fill="#6c6c6c"/><circle cx="26.8" cy="52.2" r="2.5" fill="#6c6c6c"/><circle cx="23.7" cy="4.3" r="2.7" fill="#6c6c6c"/><circle cx="8.8" cy="35.2" r="3.6" fill="#b4b4b4"/><circle cx="6.5" cy="62.8" r="3.0" fill="#6c6c6c"/><circle cx="30.2" cy="21.8" r="4.0" fill="#b4b4b4"/><circle cx="8.9" cy="29.8" r="3.9" fill="#6c6c6c"/><circle cx="67.8" cy="34.3" r="2.2" fill="#6c6c6c"/><circle cx="68.1" cy="17.4" r="2.3" fill="#b4b4b4"/><circle cx="10.6" cy="68.0" r="2.3" fill="#6c6c6c"/><circle cx="6.0" cy="54.4" r="2.0" fill="#b4b4b4"/><circle cx="16.3" cy="64.4" r="3.6" fill="#6c6c6c"/><circle cx="67.4" cy="43.9" r="3.3" fill="#6c6c6c"/><circle cx="48.9" cy="7.8" r="2.2" fill="#b4b4b4"/><circle cx="27.2" cy="15.7" r="3.5" fill="#b4b4b4"/><circle cx="37.6" cy="69.7" r="2.7" fill="#6c6c6c"/><circle cx="45.1" cy="61.9" r="3.2" fill="#b4b4b4"/></pattern></defs>
<clipPath id="clipc1"><rect x="0" y="0" width="268.9" height="265.4000000000001"/></clipPath><g transform="translate(221.5,887)"><g clip-path="url(#clipc1)"><rect x="-2" y="-2" width="272.9" height="269.4000000000001" fill="#000"/><path d="M300.0,-10.0 C274.6,-56.3 180.9,-3.3 147.8,2.3 C114.7,7.9 114.9,13.9 101.5,23.9 C88.1,33.9 77.1,49.6 67.6,62.5 C58.1,75.3 49.8,88.2 44.4,101.0 C39.0,113.8 37.2,128.0 35.2,139.6 C33.2,151.2 31.6,158.9 32.1,170.5 C32.6,182.1 34.4,198.5 38.3,209.1 C42.1,219.7 46.2,225.1 55.2,233.8 C64.2,242.6 83.2,253.9 92.3,261.6 C101.4,269.3 75.4,276.9 110.0,280.0 C144.6,283.1 268.3,328.3 300.0,280.0 C331.7,231.7 325.4,36.3 300.0,-10.0Z" fill="#1b2744" filter="url(#b1)"/><path d="M300.0,5.0 C281.7,-39.7 218.3,7.8 190.0,12.0 C161.7,16.2 145.8,22.0 130.0,30.0 C114.2,38.0 104.7,48.3 95.0,60.0 C85.3,71.7 77.5,86.7 72.0,100.0 C66.5,113.3 63.7,126.7 62.0,140.0 C60.3,153.3 60.3,167.5 62.0,180.0 C63.7,192.5 66.5,204.2 72.0,215.0 C77.5,225.8 87.8,235.0 95.0,245.0 C102.2,255.0 80.8,269.2 115.0,275.0 C149.2,280.8 269.2,325.0 300.0,280.0 C330.8,235.0 318.3,49.7 300.0,5.0Z" fill="#3f5079" filter="url(#b3)" opacity="0.75"/><path d="M147.8,2.3 C140.1,5.9 114.9,13.9 101.5,23.9 C88.1,33.9 77.1,49.6 67.6,62.5 C58.1,75.3 49.8,88.2 44.4,101.0 C39.0,113.8 37.2,128.0 35.2,139.6 C33.2,151.2 31.6,158.9 32.1,170.5 C32.6,182.1 34.4,198.5 38.3,209.1 C42.1,219.7 46.2,225.1 55.2,233.8 C64.2,242.6 86.1,257.0 92.3,261.6" fill="none" stroke="#7f90c0" stroke-width="1.4" stroke-linecap="round" opacity="0.8"/><path d="M300.0,20.0 C285.4,-21.4 238.1,28.9 212.7,31.6 C187.3,34.3 163.2,31.6 147.8,36.2 C132.4,40.8 127.8,50.6 120.1,59.4 C112.4,68.2 105.9,76.6 101.5,88.7 C97.1,100.8 95.3,117.0 93.8,131.9 C92.3,146.8 91.3,164.0 92.3,178.2 C93.3,192.3 95.9,205.2 100.0,216.8 C104.1,228.4 112.1,238.8 117.0,247.7 C121.9,256.6 98.8,264.6 129.3,270.0 C159.8,275.4 271.6,321.7 300.0,280.0 C328.4,238.3 314.6,61.4 300.0,20.0Z" fill="#03227e" filter="url(#b1)"/><ellipse cx="140" cy="75" rx="14" ry="10" fill="#011656" filter="url(#b6)" opacity="0.6"/><ellipse cx="165" cy="95" rx="12" ry="14" fill="#011656" filter="url(#b6)" opacity="0.5"/><ellipse cx="130" cy="125" rx="10" ry="16" fill="#011656" filter="url(#b6)" opacity="0.5"/><ellipse cx="160" cy="150" rx="18" ry="12" fill="#011656" filter="url(#b6)" opacity="0.55"/><ellipse cx="140" cy="185" rx="14" ry="18" fill="#011656" filter="url(#b6)" opacity="0.5"/><ellipse cx="175" cy="235" rx="22" ry="16" fill="#011656" filter="url(#b6)" opacity="0.5"/><ellipse cx="120" cy="215" rx="10" ry="12" fill="#011656" filter="url(#b6)" opacity="0.45"/><ellipse cx="150" cy="105" rx="10" ry="8" fill="#0c34a8" filter="url(#b6)" opacity="0.5"/><ellipse cx="175" cy="125" rx="8" ry="10" fill="#0c34a8" filter="url(#b6)" opacity="0.5"/><ellipse cx="150" cy="205" rx="12" ry="8" fill="#0c34a8" filter="url(#b6)" opacity="0.5"/><path d="M209.5,31.6 C200.3,39.1 189.8,55.4 184.9,67.0 C180.0,78.6 178.8,89.4 180.3,101.0 C181.8,112.6 186.7,124.9 194.1,136.5 C201.5,148.1 217.3,162.4 225.0,170.5 C232.7,178.6 227.5,181.8 240.0,185.0 C252.5,188.2 290.0,217.5 300.0,190.0 C310.0,162.5 310.0,48.0 300.0,20.0 C290.0,-8.0 255.1,20.1 240.0,22.0 C224.9,23.9 218.7,24.1 209.5,31.6Z" fill="#4f5ca8" filter="url(#b1)"/><path d="M209.5,31.6 C200.3,39.1 189.8,55.4 184.9,67.0 C180.0,78.6 178.8,89.4 180.3,101.0 C181.8,112.6 186.7,124.9 194.1,136.5 C201.5,148.1 217.3,162.4 225.0,170.5 C232.7,178.6 227.5,181.8 240.0,185.0 C252.5,188.2 290.0,217.5 300.0,190.0 C310.0,162.5 310.0,48.0 300.0,20.0 C290.0,-8.0 255.1,20.1 240.0,22.0 C224.9,23.9 218.7,24.1 209.5,31.6Z" fill="url(#livtex)" opacity="0.35" filter="url(#b1.5)"/><ellipse cx="230" cy="110" rx="30" ry="40" fill="#6a64a0" filter="url(#b8)" opacity="0.5"/><path d="M98.0,100.0 C97.5,104.5 95.5,122.5 95.0,127.0" fill="none" stroke="#b8c6f4" stroke-width="6.5" stroke-linecap="round" filter="url(#b1.2)"/><path d="M94.0,160.0 C94.2,165.3 94.8,186.7 95.0,192.0" fill="none" stroke="#b8c6f4" stroke-width="6.5" stroke-linecap="round" filter="url(#b1.2)"/><path d="M103.0,216.0 C104.7,219.7 111.3,234.3 113.0,238.0" fill="none" stroke="#b8c6f4" stroke-width="6.5" stroke-linecap="round" filter="url(#b1.2)"/><path d="M118.0,250.0 C119.5,252.3 125.5,261.7 127.0,264.0" fill="none" stroke="#b8c6f4" stroke-width="6.5" stroke-linecap="round" filter="url(#b1.2)"/><path d="M128.0,58.0 C131.3,54.7 144.7,41.3 148.0,38.0" fill="none" stroke="#b8c6f4" stroke-width="6.5" stroke-linecap="round" filter="url(#b1.2)"/><ellipse cx="245" cy="218" rx="30" ry="26" fill="#93a3ec" filter="url(#b1.5)"/><ellipse cx="250" cy="250" rx="22" ry="16" fill="#93a3ec" filter="url(#b1.5)" opacity="0.9"/><ellipse cx="252" cy="238" rx="14" ry="8" fill="#7a86c0" filter="url(#b2)" opacity="0.8"/><rect x="228" y="15" width="28" height="13" rx="5" fill="none" stroke="#b8c6f4" stroke-width="2.5"/><ellipse cx="194" cy="22" rx="8" ry="6" fill="#b8c6f4" filter="url(#b1)"/><ellipse cx="176" cy="193" rx="2.5" ry="2.5" fill="#b0bde8" opacity="0.85"/><ellipse cx="192" cy="202" rx="2" ry="2" fill="#b0bde8" opacity="0.85"/><ellipse cx="203" cy="190" rx="2.5" ry="2.5" fill="#b0bde8" opacity="0.85"/><ellipse cx="180" cy="213" rx="2" ry="2" fill="#b0bde8" opacity="0.85"/><ellipse cx="196" cy="212" rx="2.5" ry="2.5" fill="#b0bde8" opacity="0.85"/><ellipse cx="69" cy="80" rx="5" ry="6" fill="#2040d8" filter="url(#b1.5)"/></g></g>
<clipPath id="clipc2"><rect x="0" y="0" width="269.20000000000005" height="265.4000000000001"/></clipPath><g transform="translate(490.4,887)"><g clip-path="url(#clipc2)"><rect x="-2" y="-2" width="273.20000000000005" height="269.4000000000001" fill="#000"/><g transform="translate(1.5,1)"><path d="M300.0,-10.0 C274.6,-56.3 180.9,-3.3 147.8,2.3 C114.7,7.9 114.9,13.9 101.5,23.9 C88.1,33.9 77.1,49.6 67.6,62.5 C58.1,75.3 49.8,88.2 44.4,101.0 C39.0,113.8 37.2,128.0 35.2,139.6 C33.2,151.2 31.6,158.9 32.1,170.5 C32.6,182.1 34.4,198.5 38.3,209.1 C42.1,219.7 46.2,225.1 55.2,233.8 C64.2,242.6 83.2,253.9 92.3,261.6 C101.4,269.3 75.4,276.9 110.0,280.0 C144.6,283.1 268.3,328.3 300.0,280.0 C331.7,231.7 325.4,36.3 300.0,-10.0Z" fill="#262626" filter="url(#b1)"/><path d="M300.0,5.0 C281.7,-39.7 218.3,7.8 190.0,12.0 C161.7,16.2 145.8,22.0 130.0,30.0 C114.2,38.0 104.7,48.3 95.0,60.0 C85.3,71.7 77.5,86.7 72.0,100.0 C66.5,113.3 63.7,126.7 62.0,140.0 C60.3,153.3 60.3,167.5 62.0,180.0 C63.7,192.5 66.5,204.2 72.0,215.0 C77.5,225.8 87.8,235.0 95.0,245.0 C102.2,255.0 80.8,269.2 115.0,275.0 C149.2,280.8 269.2,325.0 300.0,280.0 C330.8,235.0 318.3,49.7 300.0,5.0Z" fill="#4a4a4a" filter="url(#b3)" opacity="0.75"/><path d="M147.8,2.3 C140.1,5.9 114.9,13.9 101.5,23.9 C88.1,33.9 77.1,49.6 67.6,62.5 C58.1,75.3 49.8,88.2 44.4,101.0 C39.0,113.8 37.2,128.0 35.2,139.6 C33.2,151.2 31.6,158.9 32.1,170.5 C32.6,182.1 34.4,198.5 38.3,209.1 C42.1,219.7 46.2,225.1 55.2,233.8 C64.2,242.6 86.1,257.0 92.3,261.6" fill="none" stroke="#8a8a8a" stroke-width="1.4" stroke-linecap="round" opacity="0.8"/><path d="M300.0,20.0 C285.4,-21.4 238.1,28.9 212.7,31.6 C187.3,34.3 163.2,31.6 147.8,36.2 C132.4,40.8 127.8,50.6 120.1,59.4 C112.4,68.2 105.9,76.6 101.5,88.7 C97.1,100.8 95.3,117.0 93.8,131.9 C92.3,146.8 91.3,164.0 92.3,178.2 C93.3,192.3 95.9,205.2 100.0,216.8 C104.1,228.4 112.1,238.8 117.0,247.7 C121.9,256.6 98.8,264.6 129.3,270.0 C159.8,275.4 271.6,321.7 300.0,280.0 C328.4,238.3 314.6,61.4 300.0,20.0Z" fill="#000000" filter="url(#b1)"/><path d="M209.5,31.6 C200.3,39.1 189.8,55.4 184.9,67.0 C180.0,78.6 178.8,89.4 180.3,101.0 C181.8,112.6 186.7,124.9 194.1,136.5 C201.5,148.1 217.3,162.4 225.0,170.5 C232.7,178.6 227.5,181.8 240.0,185.0 C252.5,188.2 290.0,217.5 300.0,190.0 C310.0,162.5 310.0,48.0 300.0,20.0 C290.0,-8.0 255.1,20.1 240.0,22.0 C224.9,23.9 218.7,24.1 209.5,31.6Z" fill="#868686" filter="url(#b1)"/><path d="M209.5,31.6 C200.3,39.1 189.8,55.4 184.9,67.0 C180.0,78.6 178.8,89.4 180.3,101.0 C181.8,112.6 186.7,124.9 194.1,136.5 C201.5,148.1 217.3,162.4 225.0,170.5 C232.7,178.6 227.5,181.8 240.0,185.0 C252.5,188.2 290.0,217.5 300.0,190.0 C310.0,162.5 310.0,48.0 300.0,20.0 C290.0,-8.0 255.1,20.1 240.0,22.0 C224.9,23.9 218.7,24.1 209.5,31.6Z" fill="url(#cttex)" opacity="0.4" filter="url(#b0.8)"/><path d="M98.0,100.0 C97.5,104.5 95.5,122.5 95.0,127.0" fill="none" stroke="#f0f0f0" stroke-width="6.5" stroke-linecap="round" filter="url(#b1.2)"/><path d="M94.0,160.0 C94.2,165.3 94.8,186.7 95.0,192.0" fill="none" stroke="#f0f0f0" stroke-width="6.5" stroke-linecap="round" filter="url(#b1.2)"/><path d="M103.0,216.0 C104.7,219.7 111.3,234.3 113.0,238.0" fill="none" stroke="#f0f0f0" stroke-width="6.5" stroke-linecap="round" filter="url(#b1.2)"/><path d="M118.0,250.0 C119.5,252.3 125.5,261.7 127.0,264.0" fill="none" stroke="#f0f0f0" stroke-width="6.5" stroke-linecap="round" filter="url(#b1.2)"/><path d="M128.0,58.0 C131.3,54.7 144.7,41.3 148.0,38.0" fill="none" stroke="#f0f0f0" stroke-width="6.5" stroke-linecap="round" filter="url(#b1.2)"/><ellipse cx="245" cy="218" rx="30" ry="26" fill="#f0f0f0" filter="url(#b1.5)"/><ellipse cx="250" cy="250" rx="22" ry="16" fill="#f0f0f0" filter="url(#b1.5)" opacity="0.9"/><ellipse cx="252" cy="238" rx="14" ry="8" fill="#888" filter="url(#b2)" opacity="0.8"/><rect x="228" y="15" width="28" height="13" rx="5" fill="none" stroke="#f0f0f0" stroke-width="2.5"/><ellipse cx="194" cy="22" rx="8" ry="6" fill="#f0f0f0" filter="url(#b1)"/><ellipse cx="176" cy="193" rx="2.5" ry="2.5" fill="#f0f0f0" opacity="0.85"/><ellipse cx="192" cy="202" rx="2" ry="2" fill="#f0f0f0" opacity="0.85"/><ellipse cx="203" cy="190" rx="2.5" ry="2.5" fill="#f0f0f0" opacity="0.85"/><ellipse cx="180" cy="213" rx="2" ry="2" fill="#f0f0f0" opacity="0.85"/><ellipse cx="196" cy="212" rx="2.5" ry="2.5" fill="#f0f0f0" opacity="0.85"/><ellipse cx="69" cy="80" rx="5" ry="6" fill="#6a6a6a" filter="url(#b1.5)"/></g></g></g>
<clipPath id="clipc3"><rect x="0" y="0" width="269.9" height="265.4000000000001"/></clipPath><g transform="translate(759.6,887)"><g clip-path="url(#clipc3)"><rect x="-2" y="-2" width="273.9" height="269.4000000000001" fill="#fff"/><path d="M300.0,-20.0 C296.7,-68.3 310.1,-9.6 280.0,-5.0 C249.9,-0.4 152.5,0.5 119.5,7.5 C86.5,14.5 93.2,24.6 82.0,37.0 C70.8,49.4 60.2,67.0 52.0,82.0 C43.8,97.0 37.7,112.0 33.0,127.0 C28.3,142.0 25.3,158.3 24.0,172.0 C22.7,185.7 21.5,196.7 25.0,209.0 C28.5,221.3 39.2,235.0 45.0,246.0 C50.8,257.0 17.5,268.5 60.0,275.0 C102.5,281.5 260.0,334.2 300.0,285.0 C340.0,235.8 303.3,28.3 300.0,-20.0Z" fill="#e2e2e2" filter="url(#b5)"/><path d="M118.0,18.0 C113.0,22.5 97.3,33.7 88.0,45.0 C78.7,56.3 69.2,72.2 62.0,86.0 C54.8,99.8 49.2,113.7 45.0,128.0 C40.8,142.3 37.8,158.7 37.0,172.0 C36.2,185.3 36.8,196.3 40.0,208.0 C43.2,219.7 51.0,232.3 56.0,242.0 C61.0,251.7 67.7,262.0 70.0,266.0" fill="none" stroke="#d4d4d4" stroke-width="14" stroke-linecap="round" filter="url(#b7)" opacity="0.8"/><ellipse cx="170" cy="45" rx="55" ry="28" fill="#eeeeee" filter="url(#b9)"/><ellipse cx="230" cy="12" rx="50" ry="10" fill="#eeeeee" filter="url(#b5)" opacity="0.9"/><ellipse cx="131" cy="40" rx="7" ry="6" fill="#d0d0d0" filter="url(#b3)"/><path d="M87.0,102.0 C89.5,96.7 99.5,91.7 110.0,90.0 C120.5,88.3 136.7,93.0 150.0,92.0 C163.3,91.0 179.2,86.7 190.0,84.0 C200.8,81.3 205.8,80.7 215.0,76.0 C224.2,71.3 235.0,62.7 245.0,56.0 C255.0,49.3 270.0,22.0 275.0,36.0 C280.0,50.0 282.5,122.7 275.0,140.0 C267.5,157.3 242.5,140.7 230.0,140.0 C217.5,139.3 211.7,136.3 200.0,136.0 C188.3,135.7 173.3,138.3 160.0,138.0 C146.7,137.7 130.8,136.7 120.0,134.0 C109.2,131.3 100.5,127.3 95.0,122.0 C89.5,116.7 84.5,107.3 87.0,102.0Z" fill="#c2c2c2" filter="url(#b8)"/><ellipse cx="142" cy="116" rx="18" ry="14" fill="#b4b4b4" filter="url(#b7)"/><ellipse cx="202" cy="124" rx="16" ry="15" fill="#acacac" filter="url(#b7)"/><ellipse cx="115" cy="108" rx="12" ry="10" fill="#bababa" filter="url(#b6)"/><ellipse cx="250" cy="95" rx="22" ry="28" fill="#b0b0b0" filter="url(#b8)"/><path d="M222.0,140.0 C231.2,128.3 266.2,108.3 275.0,130.0 C283.8,151.7 282.8,246.7 275.0,270.0 C267.2,293.3 237.2,281.7 228.0,270.0 C218.8,258.3 221.0,221.7 220.0,200.0 C219.0,178.3 212.8,151.7 222.0,140.0Z" fill="#b6b6b6" filter="url(#b9)"/><ellipse cx="240" cy="172" rx="16" ry="15" fill="#a2a2a2" filter="url(#b7)"/><ellipse cx="243" cy="212" rx="15" ry="15" fill="#a8a8a8" filter="url(#b7)"/><ellipse cx="150" cy="168" rx="50" ry="26" fill="#e6e6e6" filter="url(#b9)"/><ellipse cx="95" cy="228" rx="30" ry="20" fill="#cfcfcf" filter="url(#b8)"/><ellipse cx="160" cy="228" rx="30" ry="18" fill="#d6d6d6" filter="url(#b8)"/><ellipse cx="60" cy="180" rx="14" ry="30" fill="#d2d2d2" filter="url(#b8)"/><ellipse cx="64" cy="86" rx="5" ry="5" fill="#c0c0c0" filter="url(#b2)"/></g></g>
<clipPath id="clipc4"><rect x="0" y="0" width="268.9" height="265.5999999999999"/></clipPath><g transform="translate(221.5,1152.4)"><g clip-path="url(#clipc4)"><rect x="-2" y="-2" width="272.9" height="269.5999999999999" fill="#000"/><path d="M300.0,-10.0 C271.3,-56.1 163.4,-3.0 127.8,3.4 C92.2,9.8 97.4,18.3 86.1,28.1 C74.8,37.9 66.3,50.0 59.9,62.1 C53.5,74.2 51.6,87.8 47.5,100.6 C43.4,113.4 38.3,128.9 35.2,139.2 C32.1,149.5 29.3,152.1 29.0,162.4 C28.7,172.7 30.5,188.1 33.6,201.0 C36.7,213.9 43.4,228.1 47.5,239.6 C51.6,251.1 16.2,263.3 58.3,270.0 C100.4,276.7 259.7,326.7 300.0,280.0 C340.3,233.3 328.7,36.1 300.0,-10.0Z" fill="#1b2744" filter="url(#b1)"/><path d="M300.0,5.0 C278.3,-40.0 200.8,5.5 170.0,10.0 C139.2,14.5 129.2,22.8 115.0,32.0 C100.8,41.2 92.8,52.8 85.0,65.0 C77.2,77.2 72.5,90.8 68.0,105.0 C63.5,119.2 59.3,135.0 58.0,150.0 C56.7,165.0 58.0,181.7 60.0,195.0 C62.0,208.3 65.8,219.2 70.0,230.0 C74.2,240.8 80.8,251.7 85.0,260.0 C89.2,268.3 59.2,276.7 95.0,280.0 C130.8,283.3 265.8,325.8 300.0,280.0 C334.2,234.2 321.7,50.0 300.0,5.0Z" fill="#3f5079" filter="url(#b3)" opacity="0.75"/><path d="M127.8,3.4 C120.8,7.5 97.4,18.3 86.1,28.1 C74.8,37.9 66.3,50.0 59.9,62.1 C53.5,74.2 51.6,87.8 47.5,100.6 C43.4,113.4 38.3,128.9 35.2,139.2 C32.1,149.5 29.3,152.1 29.0,162.4 C28.7,172.7 30.5,188.1 33.6,201.0 C36.7,213.9 45.2,233.2 47.5,239.6" fill="none" stroke="#7f90c0" stroke-width="1.4" stroke-linecap="round" opacity="0.8"/><path d="M300.0,5.0 C277.2,-39.3 193.8,7.8 163.3,14.2 C132.8,20.6 127.8,33.0 117.0,43.5 C106.2,54.0 103.1,65.4 98.5,77.5 C93.9,89.6 91.8,103.2 89.2,116.1 C86.6,129.0 83.8,141.8 83.0,154.7 C82.2,167.6 82.8,181.7 84.6,193.3 C86.4,204.9 89.7,213.8 93.8,224.1 C97.9,234.4 105.4,245.7 109.3,255.0 C113.2,264.3 85.2,275.8 117.0,280.0 C148.8,284.2 269.5,325.8 300.0,280.0 C330.5,234.2 322.8,49.3 300.0,5.0Z" fill="#2c3a6c" filter="url(#b1)"/><path d="M142.0,40.0 C143.7,35.5 150.3,30.3 160.0,28.0 C169.7,25.7 192.3,24.0 200.0,26.0 C207.7,28.0 207.7,35.0 206.0,40.0 C204.3,45.0 199.3,53.5 190.0,56.0 C180.7,58.5 158.0,57.7 150.0,55.0 C142.0,52.3 140.3,44.5 142.0,40.0Z" fill="#02040c" filter="url(#b2)"/><path d="M99.6,77.5 C97.8,82.5 92.5,112.8 90.5,129.0 C88.5,145.2 87.0,159.3 87.5,174.5 C88.0,189.7 90.1,206.8 93.6,220.0 C97.1,233.2 104.2,244.7 108.7,253.4 C113.2,262.1 104.6,268.9 120.8,272.0 C137.0,275.1 190.6,278.1 205.8,272.0 C221.0,265.9 209.8,248.9 211.8,235.2 C213.8,221.5 213.9,201.8 217.9,189.7 C221.9,177.6 231.4,169.5 236.0,162.4 C240.6,155.3 250.2,148.2 245.2,147.2 C240.2,146.2 217.4,152.2 205.8,156.3 C194.2,160.4 185.5,168.5 175.4,171.5 C165.3,174.5 154.2,177.0 145.1,174.5 C136.0,172.0 127.5,163.9 120.9,156.3 C114.3,148.7 109.0,138.6 105.7,129.0 C102.4,119.4 102.1,107.3 101.1,98.7 C100.1,90.1 101.4,72.5 99.6,77.5Z" fill="#03227e" filter="url(#b1.2)"/><ellipse cx="190" cy="215" rx="20" ry="25" fill="#061a70" filter="url(#b6)" opacity="0.7"/><ellipse cx="120" cy="200" rx="12" ry="30" fill="#0a1f80" filter="url(#b6)" opacity="0.6"/><path d="M102.7,92.7 C104.2,82.1 108.8,71.5 114.8,65.4 C120.8,59.3 128.9,56.8 139.0,56.3 C149.1,55.8 164.3,60.3 175.4,62.3 C186.5,64.3 195.7,69.9 205.8,68.4 C215.9,66.9 223.6,57.1 236.0,53.2 C248.4,49.3 272.7,30.9 280.0,45.0 C287.3,59.1 285.8,121.0 280.0,138.0 C274.2,155.0 257.6,144.1 245.2,147.2 C232.8,150.2 217.4,152.2 205.8,156.3 C194.2,160.4 185.5,168.5 175.4,171.5 C165.3,174.5 154.2,177.0 145.1,174.5 C136.0,172.0 127.5,163.9 120.9,156.3 C114.3,148.7 108.7,139.6 105.7,129.0 C102.7,118.4 101.2,103.3 102.7,92.7Z" fill="#4a4f88" filter="url(#b1)"/><path d="M102.7,92.7 C104.2,82.1 108.8,71.5 114.8,65.4 C120.8,59.3 128.9,56.8 139.0,56.3 C149.1,55.8 164.3,60.3 175.4,62.3 C186.5,64.3 195.7,69.9 205.8,68.4 C215.9,66.9 223.6,57.1 236.0,53.2 C248.4,49.3 272.7,30.9 280.0,45.0 C287.3,59.1 285.8,121.0 280.0,138.0 C274.2,155.0 257.6,144.1 245.2,147.2 C232.8,150.2 217.4,152.2 205.8,156.3 C194.2,160.4 185.5,168.5 175.4,171.5 C165.3,174.5 154.2,177.0 145.1,174.5 C136.0,172.0 127.5,163.9 120.9,156.3 C114.3,148.7 108.7,139.6 105.7,129.0 C102.7,118.4 101.2,103.3 102.7,92.7Z" fill="url(#livtex)" opacity="0.4" filter="url(#b1.5)"/><path d="M236.0,162.0 C246.3,153.7 272.7,120.3 280.0,140.0 C287.3,159.7 292.4,256.7 280.0,280.0 C267.6,303.3 217.2,287.5 205.8,280.0 C194.4,272.5 209.8,250.2 211.8,235.2 C213.8,220.1 213.9,201.9 217.9,189.7 C221.9,177.5 225.7,170.3 236.0,162.0Z" fill="#5a6aa0" filter="url(#b1.5)"/><ellipse cx="248" cy="222" rx="24" ry="26" fill="#93a3ec" filter="url(#b1.5)"/><ellipse cx="250" cy="226" rx="13" ry="13" fill="#7d88c0" filter="url(#b2)" opacity="0.8"/><ellipse cx="250" cy="262" rx="24" ry="10" fill="#93a3ec" filter="url(#b1.5)" opacity="0.9"/><path d="M101.0,77.0 C103.0,73.5 111.0,59.5 113.0,56.0" fill="none" stroke="#b8c6f4" stroke-width="6.5" stroke-linecap="round" filter="url(#b1.2)"/><path d="M92.0,128.0 C91.7,132.0 90.3,148.0 90.0,152.0" fill="none" stroke="#b8c6f4" stroke-width="6.5" stroke-linecap="round" filter="url(#b1.2)"/><path d="M90.0,176.0 C90.3,180.3 91.7,197.7 92.0,202.0" fill="none" stroke="#b8c6f4" stroke-width="6.5" stroke-linecap="round" filter="url(#b1.2)"/><path d="M107.0,236.0 C109.0,239.5 117.0,253.5 119.0,257.0" fill="none" stroke="#b8c6f4" stroke-width="6.5" stroke-linecap="round" filter="url(#b1.2)"/><ellipse cx="128" cy="152" rx="3" ry="4" fill="#b8c6f4" opacity="0.9"/><ellipse cx="132" cy="162" rx="3" ry="4" fill="#b8c6f4" opacity="0.9"/><ellipse cx="142" cy="168" rx="3" ry="4" fill="#b8c6f4" opacity="0.9"/><ellipse cx="152" cy="170" rx="3" ry="4" fill="#b8c6f4" opacity="0.9"/><ellipse cx="160" cy="172" rx="3" ry="4" fill="#b8c6f4" opacity="0.9"/><ellipse cx="170" cy="168" rx="3" ry="4" fill="#b8c6f4" opacity="0.9"/><ellipse cx="178" cy="165" rx="3" ry="4" fill="#b8c6f4" opacity="0.9"/><ellipse cx="190" cy="158" rx="3" ry="4" fill="#b8c6f4" opacity="0.9"/><ellipse cx="190" cy="18" rx="7" ry="5" fill="#b8c6f4" filter="url(#b1)" opacity="0.9"/><ellipse cx="210" cy="20" rx="6" ry="5" fill="#b8c6f4" filter="url(#b1)" opacity="0.9"/><ellipse cx="232" cy="22" rx="10" ry="5" fill="#b8c6f4" filter="url(#b1)" opacity="0.9"/><ellipse cx="258" cy="21" rx="11" ry="5" fill="#b8c6f4" filter="url(#b1)" opacity="0.9"/><ellipse cx="61.4" cy="91.4" rx="9" ry="9" fill="#2a4ae0" filter="url(#b1.5)"/><ellipse cx="61.4" cy="91.4" rx="4" ry="4" fill="#3a1030" filter="url(#b0.8)"/></g></g>
<clipPath id="clipc5"><rect x="0" y="0" width="269.20000000000005" height="265.5999999999999"/></clipPath><g transform="translate(490.4,1152.4)"><g clip-path="url(#clipc5)"><rect x="-2" y="-2" width="273.20000000000005" height="269.5999999999999" fill="#000"/><g transform="translate(-4.5,4.4)"><path d="M300.0,-10.0 C271.3,-56.1 163.4,-3.0 127.8,3.4 C92.2,9.8 97.4,18.3 86.1,28.1 C74.8,37.9 66.3,50.0 59.9,62.1 C53.5,74.2 51.6,87.8 47.5,100.6 C43.4,113.4 38.3,128.9 35.2,139.2 C32.1,149.5 29.3,152.1 29.0,162.4 C28.7,172.7 30.5,188.1 33.6,201.0 C36.7,213.9 43.4,228.1 47.5,239.6 C51.6,251.1 16.2,263.3 58.3,270.0 C100.4,276.7 259.7,326.7 300.0,280.0 C340.3,233.3 328.7,36.1 300.0,-10.0Z" fill="#2a2a2a" filter="url(#b1)"/><path d="M300.0,5.0 C278.3,-40.0 200.8,5.5 170.0,10.0 C139.2,14.5 129.2,22.8 115.0,32.0 C100.8,41.2 92.8,52.8 85.0,65.0 C77.2,77.2 72.5,90.8 68.0,105.0 C63.5,119.2 59.3,135.0 58.0,150.0 C56.7,165.0 58.0,181.7 60.0,195.0 C62.0,208.3 65.8,219.2 70.0,230.0 C74.2,240.8 80.8,251.7 85.0,260.0 C89.2,268.3 59.2,276.7 95.0,280.0 C130.8,283.3 265.8,325.8 300.0,280.0 C334.2,234.2 321.7,50.0 300.0,5.0Z" fill="#505050" filter="url(#b3)" opacity="0.75"/><path d="M127.8,3.4 C120.8,7.5 97.4,18.3 86.1,28.1 C74.8,37.9 66.3,50.0 59.9,62.1 C53.5,74.2 51.6,87.8 47.5,100.6 C43.4,113.4 38.3,128.9 35.2,139.2 C32.1,149.5 29.3,152.1 29.0,162.4 C28.7,172.7 30.5,188.1 33.6,201.0 C36.7,213.9 45.2,233.2 47.5,239.6" fill="none" stroke="#8a8a8a" stroke-width="1.4" stroke-linecap="round" opacity="0.8"/><path d="M300.0,5.0 C277.2,-39.3 193.8,7.8 163.3,14.2 C132.8,20.6 127.8,33.0 117.0,43.5 C106.2,54.0 103.1,65.4 98.5,77.5 C93.9,89.6 91.8,103.2 89.2,116.1 C86.6,129.0 83.8,141.8 83.0,154.7 C82.2,167.6 82.8,181.7 84.6,193.3 C86.4,204.9 89.7,213.8 93.8,224.1 C97.9,234.4 105.4,245.7 109.3,255.0 C113.2,264.3 85.2,275.8 117.0,280.0 C148.8,284.2 269.5,325.8 300.0,280.0 C330.5,234.2 322.8,49.3 300.0,5.0Z" fill="#444444" filter="url(#b1)"/><path d="M142.0,40.0 C143.7,35.5 150.3,30.3 160.0,28.0 C169.7,25.7 192.3,24.0 200.0,26.0 C207.7,28.0 207.7,35.0 206.0,40.0 C204.3,45.0 199.3,53.5 190.0,56.0 C180.7,58.5 158.0,57.7 150.0,55.0 C142.0,52.3 140.3,44.5 142.0,40.0Z" fill="#000" filter="url(#b2)"/><path d="M99.6,77.5 C97.8,82.5 92.5,112.8 90.5,129.0 C88.5,145.2 87.0,159.3 87.5,174.5 C88.0,189.7 90.1,206.8 93.6,220.0 C97.1,233.2 104.2,244.7 108.7,253.4 C113.2,262.1 104.6,268.9 120.8,272.0 C137.0,275.1 190.6,278.1 205.8,272.0 C221.0,265.9 209.8,248.9 211.8,235.2 C213.8,221.5 213.9,201.8 217.9,189.7 C221.9,177.6 231.4,169.5 236.0,162.4 C240.6,155.3 250.2,148.2 245.2,147.2 C240.2,146.2 217.4,152.2 205.8,156.3 C194.2,160.4 185.5,168.5 175.4,171.5 C165.3,174.5 154.2,177.0 145.1,174.5 C136.0,172.0 127.5,163.9 120.9,156.3 C114.3,148.7 109.0,138.6 105.7,129.0 C102.4,119.4 102.1,107.3 101.1,98.7 C100.1,90.1 101.4,72.5 99.6,77.5Z" fill="#000000" filter="url(#b1.2)"/><path d="M102.7,92.7 C104.2,82.1 108.8,71.5 114.8,65.4 C120.8,59.3 128.9,56.8 139.0,56.3 C149.1,55.8 164.3,60.3 175.4,62.3 C186.5,64.3 195.7,69.9 205.8,68.4 C215.9,66.9 223.6,57.1 236.0,53.2 C248.4,49.3 272.7,30.9 280.0,45.0 C287.3,59.1 285.8,121.0 280.0,138.0 C274.2,155.0 257.6,144.1 245.2,147.2 C232.8,150.2 217.4,152.2 205.8,156.3 C194.2,160.4 185.5,168.5 175.4,171.5 C165.3,174.5 154.2,177.0 145.1,174.5 C136.0,172.0 127.5,163.9 120.9,156.3 C114.3,148.7 108.7,139.6 105.7,129.0 C102.7,118.4 101.2,103.3 102.7,92.7Z" fill="#979797" filter="url(#b1)"/><path d="M102.7,92.7 C104.2,82.1 108.8,71.5 114.8,65.4 C120.8,59.3 128.9,56.8 139.0,56.3 C149.1,55.8 164.3,60.3 175.4,62.3 C186.5,64.3 195.7,69.9 205.8,68.4 C215.9,66.9 223.6,57.1 236.0,53.2 C248.4,49.3 272.7,30.9 280.0,45.0 C287.3,59.1 285.8,121.0 280.0,138.0 C274.2,155.0 257.6,144.1 245.2,147.2 C232.8,150.2 217.4,152.2 205.8,156.3 C194.2,160.4 185.5,168.5 175.4,171.5 C165.3,174.5 154.2,177.0 145.1,174.5 C136.0,172.0 127.5,163.9 120.9,156.3 C114.3,148.7 108.7,139.6 105.7,129.0 C102.7,118.4 101.2,103.3 102.7,92.7Z" fill="url(#cttex)" opacity="0.4" filter="url(#b0.8)"/><path d="M236.0,162.0 C246.3,153.7 272.7,120.3 280.0,140.0 C287.3,159.7 292.4,256.7 280.0,280.0 C267.6,303.3 217.2,287.5 205.8,280.0 C194.4,272.5 209.8,250.2 211.8,235.2 C213.8,220.1 213.9,201.9 217.9,189.7 C221.9,177.5 225.7,170.3 236.0,162.0Z" fill="#555555" filter="url(#b1.5)"/><ellipse cx="248" cy="222" rx="24" ry="26" fill="#f0f0f0" filter="url(#b1.5)"/><ellipse cx="250" cy="226" rx="13" ry="13" fill="#8a8a8a" filter="url(#b2)" opacity="0.8"/><ellipse cx="250" cy="262" rx="24" ry="10" fill="#f0f0f0" filter="url(#b1.5)" opacity="0.9"/><path d="M101.0,77.0 C103.0,73.5 111.0,59.5 113.0,56.0" fill="none" stroke="#f0f0f0" stroke-width="6.5" stroke-linecap="round" filter="url(#b1.2)"/><path d="M92.0,128.0 C91.7,132.0 90.3,148.0 90.0,152.0" fill="none" stroke="#f0f0f0" stroke-width="6.5" stroke-linecap="round" filter="url(#b1.2)"/><path d="M90.0,176.0 C90.3,180.3 91.7,197.7 92.0,202.0" fill="none" stroke="#f0f0f0" stroke-width="6.5" stroke-linecap="round" filter="url(#b1.2)"/><path d="M107.0,236.0 C109.0,239.5 117.0,253.5 119.0,257.0" fill="none" stroke="#f0f0f0" stroke-width="6.5" stroke-linecap="round" filter="url(#b1.2)"/><ellipse cx="128" cy="152" rx="3" ry="4" fill="#f0f0f0" opacity="0.9"/><ellipse cx="132" cy="162" rx="3" ry="4" fill="#f0f0f0" opacity="0.9"/><ellipse cx="142" cy="168" rx="3" ry="4" fill="#f0f0f0" opacity="0.9"/><ellipse cx="152" cy="170" rx="3" ry="4" fill="#f0f0f0" opacity="0.9"/><ellipse cx="160" cy="172" rx="3" ry="4" fill="#f0f0f0" opacity="0.9"/><ellipse cx="170" cy="168" rx="3" ry="4" fill="#f0f0f0" opacity="0.9"/><ellipse cx="178" cy="165" rx="3" ry="4" fill="#f0f0f0" opacity="0.9"/><ellipse cx="190" cy="158" rx="3" ry="4" fill="#f0f0f0" opacity="0.9"/><ellipse cx="190" cy="18" rx="7" ry="5" fill="#f0f0f0" filter="url(#b1)" opacity="0.9"/><ellipse cx="210" cy="20" rx="6" ry="5" fill="#f0f0f0" filter="url(#b1)" opacity="0.9"/><ellipse cx="232" cy="22" rx="10" ry="5" fill="#f0f0f0" filter="url(#b1)" opacity="0.9"/><ellipse cx="258" cy="21" rx="11" ry="5" fill="#f0f0f0" filter="url(#b1)" opacity="0.9"/><ellipse cx="57" cy="95" rx="4.5" ry="4.5" fill="#7a7a7a" filter="url(#b1)"/></g></g></g>
<clipPath id="clipc6"><rect x="0" y="0" width="269.9" height="265.5999999999999"/></clipPath><g transform="translate(759.6,1152.4)"><g clip-path="url(#clipc6)"><rect x="-2" y="-2" width="273.9" height="269.5999999999999" fill="#fff"/><path d="M300.0,-20.0 C296.7,-68.3 307.6,-10.1 280.0,-5.0 C252.4,0.1 166.2,3.5 134.5,10.5 C102.8,17.6 102.0,27.8 89.6,37.3 C77.1,46.8 68.5,54.8 59.8,67.2 C51.1,79.7 42.8,95.8 37.3,112.0 C31.8,128.2 27.4,146.9 26.9,164.3 C26.4,181.7 30.2,201.7 34.4,216.6 C38.6,231.5 47.6,244.3 52.3,254.0 C57.0,263.7 21.4,269.8 62.7,275.0 C104.0,280.2 260.4,334.2 300.0,285.0 C339.6,235.8 303.3,28.3 300.0,-20.0Z" fill="#e3e3e3" filter="url(#b5)"/><path d="M134.0,22.0 C128.0,26.0 108.7,37.0 98.0,46.0 C87.3,55.0 78.0,64.5 70.0,76.0 C62.0,87.5 54.7,100.3 50.0,115.0 C45.3,129.7 42.5,147.5 42.0,164.0 C41.5,180.5 43.3,199.7 47.0,214.0 C50.7,228.3 59.5,240.7 64.0,250.0 C68.5,259.3 72.3,266.7 74.0,270.0" fill="none" stroke="#d8d8d8" stroke-width="12" stroke-linecap="round" filter="url(#b6)" opacity="0.8"/><ellipse cx="210" cy="20" rx="60" ry="14" fill="#ededed" filter="url(#b5)" opacity="0.8"/><path d="M107.6,119.5 C107.6,110.8 112.0,96.8 116.5,89.6 C121.0,82.4 126.5,79.4 134.5,76.2 C142.5,73.0 155.6,70.0 164.3,70.2 C173.0,70.5 179.2,76.5 186.7,77.7 C194.2,79.0 201.6,79.5 209.1,77.7 C216.6,76.0 224.0,70.7 231.5,67.2 C239.0,63.7 246.8,58.8 254.0,56.8 C261.2,54.8 271.5,48.6 275.0,55.3 C278.5,62.0 279.8,86.3 275.0,97.0 C270.2,107.7 255.0,112.0 246.5,119.5 C238.0,127.0 232.7,134.5 224.0,142.0 C215.3,149.5 201.6,156.9 194.2,164.3 C186.8,171.8 185.5,182.2 179.3,186.7 C173.1,191.2 164.4,193.7 156.9,191.2 C149.4,188.7 141.2,180.0 134.5,171.8 C127.8,163.6 121.0,150.7 116.5,142.0 C112.0,133.3 107.6,128.2 107.6,119.5Z" fill="#919191" filter="url(#b4)"/><path d="M107.6,119.5 C107.6,110.8 112.0,96.8 116.5,89.6 C121.0,82.4 126.5,79.4 134.5,76.2 C142.5,73.0 155.6,70.0 164.3,70.2 C173.0,70.5 179.2,76.5 186.7,77.7 C194.2,79.0 201.6,79.5 209.1,77.7 C216.6,76.0 224.0,70.7 231.5,67.2 C239.0,63.7 246.8,58.8 254.0,56.8 C261.2,54.8 271.5,48.6 275.0,55.3 C278.5,62.0 279.8,86.3 275.0,97.0 C270.2,107.7 255.0,112.0 246.5,119.5 C238.0,127.0 232.7,134.5 224.0,142.0 C215.3,149.5 201.6,156.9 194.2,164.3 C186.8,171.8 185.5,182.2 179.3,186.7 C173.1,191.2 164.4,193.7 156.9,191.2 C149.4,188.7 141.2,180.0 134.5,171.8 C127.8,163.6 121.0,150.7 116.5,142.0 C112.0,133.3 107.6,128.2 107.6,119.5Z" fill="url(#pettex)" opacity="0.35" filter="url(#b2)"/><ellipse cx="140" cy="140" rx="14" ry="12" fill="#858585" filter="url(#b5)"/><ellipse cx="185" cy="120" rx="14" ry="12" fill="#878787" filter="url(#b5)"/><ellipse cx="158" cy="110" rx="6" ry="6" fill="#a0a0a0" filter="url(#b3)"/><ellipse cx="258" cy="80" rx="14" ry="22" fill="#a2a2a2" filter="url(#b6)"/><path d="M216.6,194.0 C226.3,179.8 265.3,172.3 275.0,185.0 C284.7,197.7 284.7,255.8 275.0,270.0 C265.3,284.2 226.3,282.7 216.6,270.0 C206.9,257.3 206.9,208.2 216.6,194.0Z" fill="#c6c6c6" filter="url(#b9)"/><path d="M190.0,190.0 C196.7,185.8 216.7,173.0 230.0,165.0 C243.3,157.0 263.3,145.8 270.0,142.0" fill="none" stroke="#ececec" stroke-width="10" stroke-linecap="round" filter="url(#b5)" opacity="0.9"/><ellipse cx="150" cy="235" rx="45" ry="18" fill="#d8d8d8" filter="url(#b8)" opacity="0.9"/><ellipse cx="68" cy="100.8" rx="6" ry="6" fill="#5a5a5a" filter="url(#b2.5)"/></g></g>
<clipPath id="clipc7"><rect x="0" y="0" width="269.70000000000005" height="266.9000000000001"/></clipPath><g transform="translate(1080.5,890.5)"><g clip-path="url(#clipc7)"><rect x="-2" y="-2" width="273.70000000000005" height="270.9000000000001" fill="#000"/><path d="M-5.0,200.0 C-2.5,188.8 10.8,175.0 20.0,165.0 C29.2,155.0 43.0,143.8 50.0,140.0 C57.0,136.2 56.2,136.2 62.0,142.0 C67.8,147.8 79.5,163.7 85.0,175.0 C90.5,186.3 95.8,199.2 95.0,210.0 C94.2,220.8 89.2,233.7 80.0,240.0 C70.8,246.3 52.5,249.3 40.0,248.0 C27.5,246.7 12.5,240.0 5.0,232.0 C-2.5,224.0 -7.5,211.2 -5.0,200.0Z" fill="#18203a" filter="url(#b1)"/><path d="M20.0,200.0 C23.3,190.8 36.0,173.7 42.0,165.0 C48.0,156.3 51.3,148.0 56.0,148.0 C60.7,148.0 65.7,158.0 70.0,165.0 C74.3,172.0 81.7,180.5 82.0,190.0 C82.3,199.5 78.2,215.7 72.0,222.0 C65.8,228.3 53.3,228.3 45.0,228.0 C36.7,227.7 26.2,224.7 22.0,220.0 C17.8,215.3 16.7,209.2 20.0,200.0Z" fill="#52628a" filter="url(#b2)" opacity="0.95"/><ellipse cx="52.1" cy="193.1" rx="9" ry="9" fill="#c8d2f6"/><ellipse cx="52.1" cy="193.1" rx="4" ry="4" fill="#18203a"/><path d="M300.0,-10.0 C289.5,-56.1 257.7,-0.2 237.1,3.6 C216.5,7.4 194.1,7.6 176.4,12.7 C158.7,17.8 143.1,24.3 131.0,33.9 C118.9,43.5 109.3,56.6 103.7,70.3 C98.1,84.0 98.6,98.1 97.6,115.8 C96.6,133.5 96.6,156.2 97.6,176.4 C98.6,196.6 101.7,221.5 103.7,237.1 C105.7,252.7 77.0,262.9 109.7,270.0 C142.4,277.1 268.3,326.7 300.0,280.0 C331.7,233.3 310.5,36.1 300.0,-10.0Z" fill="#24304e" filter="url(#b1)"/><path d="M237.1,3.6 C227.0,5.1 194.1,7.6 176.4,12.7 C158.7,17.8 143.1,24.3 131.0,33.9 C118.9,43.5 109.3,56.6 103.7,70.3 C98.1,84.0 98.6,98.1 97.6,115.8 C96.6,133.5 96.6,156.2 97.6,176.4 C98.6,196.6 102.7,227.0 103.7,237.1" fill="none" stroke="#7484b0" stroke-width="1.2" stroke-linecap="round" opacity="0.7"/><path d="M300.0,31.0 C281.3,-9.0 212.6,33.6 188.0,36.0 C163.4,38.4 162.8,37.5 152.3,45.1 C141.8,52.7 131.1,67.8 125.0,81.5 C118.9,95.2 116.9,111.8 115.9,127.0 C114.9,142.2 117.0,157.2 119.0,172.4 C121.0,187.6 123.5,204.2 128.0,217.9 C132.5,231.6 142.0,244.6 146.2,254.3 C150.4,264.0 127.4,272.4 153.0,276.0 C178.6,279.6 275.5,316.8 300.0,276.0 C324.5,235.2 318.7,71.0 300.0,31.0Z" fill="#3a4a72" filter="url(#b3)" opacity="0.8"/><path d="M300.0,35.0 C283.3,-5.0 222.6,37.6 200.0,40.0 C177.4,42.4 174.8,41.5 164.3,49.1 C153.8,56.7 143.1,71.8 137.0,85.5 C130.9,99.2 128.9,115.8 127.9,131.0 C126.9,146.2 129.0,161.2 131.0,176.4 C133.0,191.6 135.5,208.2 140.0,221.9 C144.5,235.6 154.0,248.6 158.2,258.3 C162.4,268.0 141.4,276.4 165.0,280.0 C188.6,283.6 277.5,320.8 300.0,280.0 C322.5,239.2 316.7,75.0 300.0,35.0Z" fill="#575d7e" filter="url(#b1)"/><path d="M300.0,35.0 C283.3,-5.0 222.6,37.6 200.0,40.0 C177.4,42.4 174.8,41.5 164.3,49.1 C153.8,56.7 143.1,71.8 137.0,85.5 C130.9,99.2 128.9,115.8 127.9,131.0 C126.9,146.2 129.0,161.2 131.0,176.4 C133.0,191.6 135.5,208.2 140.0,221.9 C144.5,235.6 154.0,248.6 158.2,258.3 C162.4,268.0 141.4,276.4 165.0,280.0 C188.6,283.6 277.5,320.8 300.0,280.0 C322.5,239.2 316.7,75.0 300.0,35.0Z" fill="url(#livtex)" opacity="0.45" filter="url(#b1.5)"/><path d="M136.0,95.0 C135.3,102.5 131.7,126.7 132.0,140.0 C132.3,153.3 137.0,169.2 138.0,175.0" fill="none" stroke="#0a2070" stroke-width="4" stroke-linecap="round" filter="url(#b1.5)" opacity="0.8"/><path d="M136.0,160.0 C135.2,165.5 136.0,200.3 140.0,215.0 C144.0,229.7 149.2,240.2 160.0,248.0 C170.8,255.8 190.8,261.7 205.0,262.0 C219.2,262.3 234.8,257.8 245.0,250.0 C255.2,242.2 261.0,227.5 266.0,215.0 C271.0,202.5 273.5,184.2 275.0,175.0 C276.5,165.8 277.8,157.5 275.0,160.0 C272.2,162.5 265.2,181.7 258.0,190.0 C250.8,198.3 242.5,205.7 232.0,210.0 C221.5,214.3 206.2,216.8 195.0,216.0 C183.8,215.2 173.3,210.7 165.0,205.0 C156.7,199.3 149.8,189.5 145.0,182.0 C140.2,174.5 136.8,154.5 136.0,160.0Z" fill="#0a2070" filter="url(#b1.2)"/><path d="M129.0,110.0 C128.8,112.3 128.2,121.7 128.0,124.0" fill="none" stroke="#c8d2f6" stroke-width="4.5" stroke-linecap="round" filter="url(#b0.8)"/><path d="M130.0,160.0 C130.2,162.7 130.8,173.3 131.0,176.0" fill="none" stroke="#c8d2f6" stroke-width="4.5" stroke-linecap="round" filter="url(#b0.8)"/><path d="M142.0,222.0 C143.3,224.7 148.7,235.3 150.0,238.0" fill="none" stroke="#c8d2f6" stroke-width="4.5" stroke-linecap="round" filter="url(#b0.8)"/><path d="M165.0,55.0 C166.8,53.7 174.2,48.3 176.0,47.0" fill="none" stroke="#c8d2f6" stroke-width="4.5" stroke-linecap="round" filter="url(#b0.8)"/><ellipse cx="212" cy="24" rx="11" ry="6" fill="#7f8fbf" filter="url(#b1)"/><ellipse cx="245" cy="20" rx="10" ry="6" fill="#7f8fbf" filter="url(#b1)"/><ellipse cx="268" cy="22" rx="8" ry="6" fill="#7f8fbf" filter="url(#b1)"/><ellipse cx="270" cy="240" rx="10" ry="26" fill="#c8d2f6" filter="url(#b1.5)" opacity="0.85"/><ellipse cx="200" cy="266" rx="18" ry="5" fill="#c8d2f6" filter="url(#b1)" opacity="0.9"/><ellipse cx="109.7" cy="102.1" rx="6" ry="8" fill="#3050c0" filter="url(#b2)"/><ellipse cx="109.7" cy="102.1" rx="4" ry="6" fill="#e0a060"/><ellipse cx="109.7" cy="101.1" rx="2" ry="3" fill="#fff3d0"/></g></g>
<clipPath id="clipc8"><rect x="0" y="0" width="270.0" height="266.9000000000001"/></clipPath><g transform="translate(1350.2,890.5)"><g clip-path="url(#clipc8)"><rect x="-2" y="-2" width="274.0" height="270.9000000000001" fill="#000"/><g transform="translate(12.3,9.1)"><path d="M-5.0,200.0 C-2.5,188.8 10.8,175.0 20.0,165.0 C29.2,155.0 43.0,143.8 50.0,140.0 C57.0,136.2 56.2,136.2 62.0,142.0 C67.8,147.8 79.5,163.7 85.0,175.0 C90.5,186.3 95.8,199.2 95.0,210.0 C94.2,220.8 89.2,233.7 80.0,240.0 C70.8,246.3 52.5,249.3 40.0,248.0 C27.5,246.7 12.5,240.0 5.0,232.0 C-2.5,224.0 -7.5,211.2 -5.0,200.0Z" fill="#1e1e1e" filter="url(#b1)"/><path d="M20.0,200.0 C23.3,190.8 36.0,173.7 42.0,165.0 C48.0,156.3 51.3,148.0 56.0,148.0 C60.7,148.0 65.7,158.0 70.0,165.0 C74.3,172.0 81.7,180.5 82.0,190.0 C82.3,199.5 78.2,215.7 72.0,222.0 C65.8,228.3 53.3,228.3 45.0,228.0 C36.7,227.7 26.2,224.7 22.0,220.0 C17.8,215.3 16.7,209.2 20.0,200.0Z" fill="#7c7c7c" filter="url(#b2)" opacity="0.95"/><ellipse cx="52.1" cy="193.1" rx="9" ry="9" fill="#f4f4f4"/><ellipse cx="52.1" cy="193.1" rx="4" ry="4" fill="#1e1e1e"/><path d="M300.0,-10.0 C289.5,-56.1 257.7,-0.2 237.1,3.6 C216.5,7.4 194.1,7.6 176.4,12.7 C158.7,17.8 143.1,24.3 131.0,33.9 C118.9,43.5 109.3,56.6 103.7,70.3 C98.1,84.0 98.6,98.1 97.6,115.8 C96.6,133.5 96.6,156.2 97.6,176.4 C98.6,196.6 101.7,221.5 103.7,237.1 C105.7,252.7 77.0,262.9 109.7,270.0 C142.4,277.1 268.3,326.7 300.0,280.0 C331.7,233.3 310.5,36.1 300.0,-10.0Z" fill="#262626" filter="url(#b1)"/><path d="M237.1,3.6 C227.0,5.1 194.1,7.6 176.4,12.7 C158.7,17.8 143.1,24.3 131.0,33.9 C118.9,43.5 109.3,56.6 103.7,70.3 C98.1,84.0 98.6,98.1 97.6,115.8 C96.6,133.5 96.6,156.2 97.6,176.4 C98.6,196.6 102.7,227.0 103.7,237.1" fill="none" stroke="#7a7a7a" stroke-width="1.2" stroke-linecap="round" opacity="0.7"/><path d="M300.0,31.0 C281.3,-9.0 212.6,33.6 188.0,36.0 C163.4,38.4 162.8,37.5 152.3,45.1 C141.8,52.7 131.1,67.8 125.0,81.5 C118.9,95.2 116.9,111.8 115.9,127.0 C114.9,142.2 117.0,157.2 119.0,172.4 C121.0,187.6 123.5,204.2 128.0,217.9 C132.5,231.6 142.0,244.6 146.2,254.3 C150.4,264.0 127.4,272.4 153.0,276.0 C178.6,279.6 275.5,316.8 300.0,276.0 C324.5,235.2 318.7,71.0 300.0,31.0Z" fill="#3a3a3a" filter="url(#b3)" opacity="0.8"/><path d="M300.0,35.0 C283.3,-5.0 222.6,37.6 200.0,40.0 C177.4,42.4 174.8,41.5 164.3,49.1 C153.8,56.7 143.1,71.8 137.0,85.5 C130.9,99.2 128.9,115.8 127.9,131.0 C126.9,146.2 129.0,161.2 131.0,176.4 C133.0,191.6 135.5,208.2 140.0,221.9 C144.5,235.6 154.0,248.6 158.2,258.3 C162.4,268.0 141.4,276.4 165.0,280.0 C188.6,283.6 277.5,320.8 300.0,280.0 C322.5,239.2 316.7,75.0 300.0,35.0Z" fill="#939393" filter="url(#b1)"/><path d="M300.0,35.0 C283.3,-5.0 222.6,37.6 200.0,40.0 C177.4,42.4 174.8,41.5 164.3,49.1 C153.8,56.7 143.1,71.8 137.0,85.5 C130.9,99.2 128.9,115.8 127.9,131.0 C126.9,146.2 129.0,161.2 131.0,176.4 C133.0,191.6 135.5,208.2 140.0,221.9 C144.5,235.6 154.0,248.6 158.2,258.3 C162.4,268.0 141.4,276.4 165.0,280.0 C188.6,283.6 277.5,320.8 300.0,280.0 C322.5,239.2 316.7,75.0 300.0,35.0Z" fill="url(#cttex)" opacity="0.45" filter="url(#b0.8)"/><path d="M136.0,160.0 C135.2,165.5 136.0,200.3 140.0,215.0 C144.0,229.7 149.2,240.2 160.0,248.0 C170.8,255.8 190.8,261.7 205.0,262.0 C219.2,262.3 234.8,257.8 245.0,250.0 C255.2,242.2 261.0,227.5 266.0,215.0 C271.0,202.5 273.5,184.2 275.0,175.0 C276.5,165.8 277.8,157.5 275.0,160.0 C272.2,162.5 265.2,181.7 258.0,190.0 C250.8,198.3 242.5,205.7 232.0,210.0 C221.5,214.3 206.2,216.8 195.0,216.0 C183.8,215.2 173.3,210.7 165.0,205.0 C156.7,199.3 149.8,189.5 145.0,182.0 C140.2,174.5 136.8,154.5 136.0,160.0Z" fill="#000" filter="url(#b1.2)"/><path d="M129.0,110.0 C128.8,112.3 128.2,121.7 128.0,124.0" fill="none" stroke="#f4f4f4" stroke-width="4.5" stroke-linecap="round" filter="url(#b0.8)"/><path d="M130.0,160.0 C130.2,162.7 130.8,173.3 131.0,176.0" fill="none" stroke="#f4f4f4" stroke-width="4.5" stroke-linecap="round" filter="url(#b0.8)"/><path d="M142.0,222.0 C143.3,224.7 148.7,235.3 150.0,238.0" fill="none" stroke="#f4f4f4" stroke-width="4.5" stroke-linecap="round" filter="url(#b0.8)"/><path d="M165.0,55.0 C166.8,53.7 174.2,48.3 176.0,47.0" fill="none" stroke="#f4f4f4" stroke-width="4.5" stroke-linecap="round" filter="url(#b0.8)"/><ellipse cx="212" cy="24" rx="11" ry="6" fill="#8a8a8a" filter="url(#b1)"/><ellipse cx="245" cy="20" rx="10" ry="6" fill="#8a8a8a" filter="url(#b1)"/><ellipse cx="268" cy="22" rx="8" ry="6" fill="#8a8a8a" filter="url(#b1)"/><ellipse cx="270" cy="240" rx="10" ry="26" fill="#f4f4f4" filter="url(#b1.5)" opacity="0.85"/><ellipse cx="200" cy="266" rx="18" ry="5" fill="#f4f4f4" filter="url(#b1)" opacity="0.9"/><ellipse cx="109.7" cy="102.1" rx="4" ry="5" fill="#6a6a6a" filter="url(#b1)"/></g></g></g>
<clipPath id="clipc9"><rect x="0" y="0" width="270.39999999999986" height="266.9000000000001"/></clipPath><g transform="translate(1620.2,890.5)"><g clip-path="url(#clipc9)"><rect x="-2" y="-2" width="274.39999999999986" height="270.9000000000001" fill="#fff"/><path d="M12.0,150.0 C19.9,143.8 40.8,136.3 49.3,138.0 C57.8,139.7 59.9,148.2 62.7,160.0 C65.5,171.8 69.8,199.8 66.0,209.0 C62.2,218.2 49.3,215.7 40.0,215.0 C30.7,214.3 16.3,211.7 10.0,205.0 C3.7,198.3 1.7,184.2 2.0,175.0 C2.3,165.8 4.1,156.2 12.0,150.0Z" fill="#e2e2e2" filter="url(#b7)"/><ellipse cx="55.3" cy="179.3" rx="6" ry="12" fill="#cccccc" filter="url(#b4)"/><path d="M300.0,-20.0 C295.2,-67.0 288.6,-1.6 271.0,3.0 C253.4,7.6 216.9,4.3 194.2,7.5 C171.4,10.7 149.4,16.2 134.5,22.4 C119.6,28.6 113.1,37.3 104.6,44.8 C96.1,52.3 89.2,57.2 83.7,67.2 C78.2,77.2 74.0,90.9 71.7,104.6 C69.5,118.3 70.2,134.5 70.2,149.4 C70.2,164.3 70.5,179.3 71.7,194.2 C73.0,209.1 75.7,225.5 77.7,239.0 C79.7,252.5 46.6,267.3 83.7,275.0 C120.8,282.7 263.9,334.2 300.0,285.0 C336.1,235.8 304.8,27.0 300.0,-20.0Z" fill="#ececec" filter="url(#b4)"/><path d="M134.0,34.0 C129.7,37.7 115.0,48.3 108.0,56.0 C101.0,63.7 96.2,71.0 92.0,80.0 C87.8,89.0 84.7,98.3 83.0,110.0 C81.3,121.7 81.8,136.0 82.0,150.0 C82.2,164.0 82.7,179.3 84.0,194.0 C85.3,208.7 88.0,226.0 90.0,238.0 C92.0,250.0 95.0,261.3 96.0,266.0" fill="none" stroke="#dcdcdc" stroke-width="10" stroke-linecap="round" filter="url(#b5)" opacity="0.8"/><path d="M122.5,134.5 C122.5,124.5 124.5,107.6 127.0,97.1 C129.5,86.6 131.2,78.2 137.4,71.7 C143.6,65.2 154.8,59.5 164.3,58.3 C173.8,57.0 186.2,61.5 194.2,64.2 C202.2,66.9 205.9,75.0 212.1,74.7 C218.3,74.5 224.5,67.2 231.5,62.7 C238.5,58.2 246.8,50.8 254.0,47.8 C261.2,44.8 271.5,25.4 275.0,44.8 C278.5,64.2 279.2,142.6 275.0,164.3 C270.8,186.0 258.5,171.3 250.0,175.0 C241.5,178.7 233.3,182.2 224.0,186.7 C214.7,191.1 204.1,199.7 194.2,201.7 C184.2,203.7 173.0,202.4 164.3,198.7 C155.6,195.0 148.2,186.3 142.0,179.3 C135.8,172.3 130.2,164.4 127.0,156.9 C123.8,149.4 122.5,144.5 122.5,134.5Z" fill="#8b8b8b" filter="url(#b4)"/><path d="M122.5,134.5 C122.5,124.5 124.5,107.6 127.0,97.1 C129.5,86.6 131.2,78.2 137.4,71.7 C143.6,65.2 154.8,59.5 164.3,58.3 C173.8,57.0 186.2,61.5 194.2,64.2 C202.2,66.9 205.9,75.0 212.1,74.7 C218.3,74.5 224.5,67.2 231.5,62.7 C238.5,58.2 246.8,50.8 254.0,47.8 C261.2,44.8 271.5,25.4 275.0,44.8 C278.5,64.2 279.2,142.6 275.0,164.3 C270.8,186.0 258.5,171.3 250.0,175.0 C241.5,178.7 233.3,182.2 224.0,186.7 C214.7,191.1 204.1,199.7 194.2,201.7 C184.2,203.7 173.0,202.4 164.3,198.7 C155.6,195.0 148.2,186.3 142.0,179.3 C135.8,172.3 130.2,164.4 127.0,156.9 C123.8,149.4 122.5,144.5 122.5,134.5Z" fill="url(#pettex)" opacity="0.4" filter="url(#b2)"/><ellipse cx="253" cy="135" rx="8" ry="14" fill="#b2b2b2" filter="url(#b5)"/><ellipse cx="190" cy="172" rx="16" ry="10" fill="#7c7c7c" filter="url(#b5)"/><ellipse cx="160" cy="110" rx="12" ry="10" fill="#828282" filter="url(#b5)"/><path d="M120.0,205.0 C125.3,206.3 136.7,222.5 150.0,230.0 C163.3,237.5 185.0,248.3 200.0,250.0 C215.0,251.7 227.5,244.7 240.0,240.0 C252.5,235.3 269.2,222.7 275.0,222.0 C280.8,221.3 280.8,230.3 275.0,236.0 C269.2,241.7 253.3,251.0 240.0,256.0 C226.7,261.0 210.8,267.0 195.0,266.0 C179.2,265.0 157.8,257.3 145.0,250.0 C132.2,242.7 122.2,229.5 118.0,222.0 C113.8,214.5 114.7,203.7 120.0,205.0Z" fill="#c6c6c6" filter="url(#b6)"/><ellipse cx="255" cy="205" rx="18" ry="14" fill="#b0b0b0" filter="url(#b7)"/><ellipse cx="93.4" cy="100.1" rx="5.4" ry="6.8" fill="#050505" filter="url(#b0.8)"/></g></g>
<clipPath id="clipc10"><rect x="0" y="0" width="269.70000000000005" height="266.79999999999995"/></clipPath><g transform="translate(1080.5,1157.4)"><g clip-path="url(#clipc10)"><rect x="-2" y="-2" width="273.70000000000005" height="270.79999999999995" fill="#000"/><path d="M-8.0,190.0 C-5.8,178.0 7.3,169.2 15.0,160.0 C22.7,150.8 32.2,138.8 38.0,135.0 C43.8,131.2 44.3,132.0 50.0,137.0 C55.7,142.0 66.7,153.7 72.0,165.0 C77.3,176.3 82.3,192.8 82.0,205.0 C81.7,217.2 77.8,231.2 70.0,238.0 C62.2,244.8 46.3,247.0 35.0,246.0 C23.7,245.0 9.2,241.3 2.0,232.0 C-5.2,222.7 -10.2,202.0 -8.0,190.0Z" fill="#18203a" filter="url(#b1)"/><path d="M8.0,195.0 C11.0,185.8 22.0,168.7 28.0,160.0 C34.0,151.3 39.0,143.0 44.0,143.0 C49.0,143.0 54.0,152.2 58.0,160.0 C62.0,167.8 67.7,179.7 68.0,190.0 C68.3,200.3 66.3,216.0 60.0,222.0 C53.7,228.0 38.3,227.2 30.0,226.0 C21.7,224.8 13.7,220.2 10.0,215.0 C6.3,209.8 5.0,204.2 8.0,195.0Z" fill="#52628a" filter="url(#b2)" opacity="0.95"/><ellipse cx="40" cy="182.2" rx="9" ry="9" fill="#c8d2f6"/><ellipse cx="40" cy="182.2" rx="4" ry="4" fill="#18203a"/><path d="M300.0,-10.0 C286.7,-56.3 242.6,-1.5 220.0,2.0 C197.4,5.5 180.7,4.9 164.3,10.9 C147.9,16.9 133.4,27.6 121.8,38.2 C110.2,48.8 101.2,59.9 94.6,74.6 C88.0,89.2 84.4,109.4 82.4,126.1 C80.4,142.8 80.9,156.4 82.4,174.6 C83.9,192.8 89.0,219.4 91.5,235.3 C94.0,251.2 62.8,262.6 97.6,270.0 C132.3,277.4 266.3,326.7 300.0,280.0 C333.7,233.3 313.3,36.3 300.0,-10.0Z" fill="#24304e" filter="url(#b1)"/><path d="M220.0,2.0 C210.7,3.5 180.7,4.9 164.3,10.9 C147.9,16.9 133.4,27.6 121.8,38.2 C110.2,48.8 101.2,59.9 94.6,74.6 C88.0,89.2 84.4,109.4 82.4,126.1 C80.4,142.8 80.9,156.4 82.4,174.6 C83.9,192.8 90.0,225.2 91.5,235.3" fill="none" stroke="#7484b0" stroke-width="1.2" stroke-linecap="round" opacity="0.7"/><path d="M300.0,31.0 C279.7,-9.7 204.6,31.0 178.0,32.0 C151.4,33.0 150.5,29.3 140.2,37.2 C129.8,45.2 121.5,65.1 115.9,79.7 C110.3,94.3 107.8,109.9 106.8,125.1 C105.8,140.2 106.8,154.4 109.8,170.6 C112.8,186.8 117.9,209.0 125.0,222.2 C132.1,235.3 146.0,240.5 152.3,249.5 C158.6,258.5 138.4,271.6 163.0,276.0 C187.6,280.4 277.2,316.8 300.0,276.0 C322.8,235.2 320.3,71.7 300.0,31.0Z" fill="#3a4a72" filter="url(#b3)" opacity="0.8"/><path d="M300.0,35.0 C281.7,-5.7 214.6,35.0 190.0,36.0 C165.4,37.0 162.5,33.2 152.2,41.2 C141.8,49.2 133.5,69.1 127.9,83.7 C122.3,98.3 119.8,113.9 118.8,129.1 C117.8,144.2 118.8,158.4 121.8,174.6 C124.8,190.8 129.9,213.0 137.0,226.2 C144.1,239.3 158.0,244.5 164.3,253.5 C170.6,262.5 152.4,275.6 175.0,280.0 C197.6,284.4 279.2,320.8 300.0,280.0 C320.8,239.2 318.3,75.7 300.0,35.0Z" fill="#575d7e" filter="url(#b1)"/><path d="M300.0,35.0 C281.7,-5.7 214.6,35.0 190.0,36.0 C165.4,37.0 162.5,33.2 152.2,41.2 C141.8,49.2 133.5,69.1 127.9,83.7 C122.3,98.3 119.8,113.9 118.8,129.1 C117.8,144.2 118.8,158.4 121.8,174.6 C124.8,190.8 129.9,213.0 137.0,226.2 C144.1,239.3 158.0,244.5 164.3,253.5 C170.6,262.5 152.4,275.6 175.0,280.0 C197.6,284.4 279.2,320.8 300.0,280.0 C320.8,239.2 318.3,75.7 300.0,35.0Z" fill="url(#livtex)" opacity="0.45" filter="url(#b1.5)"/><path d="M136.0,95.0 C135.3,102.5 131.7,126.7 132.0,140.0 C132.3,153.3 137.0,169.2 138.0,175.0" fill="none" stroke="#0a2070" stroke-width="4" stroke-linecap="round" filter="url(#b1.5)" opacity="0.8"/><path d="M124.0,165.0 C123.3,170.8 126.8,201.7 132.0,215.0 C137.2,228.3 143.7,237.8 155.0,245.0 C166.3,252.2 185.8,257.5 200.0,258.0 C214.2,258.5 229.7,255.2 240.0,248.0 C250.3,240.8 256.2,227.2 262.0,215.0 C267.8,202.8 272.8,185.0 275.0,175.0 C277.2,165.0 278.3,153.3 275.0,155.0 C271.7,156.7 262.8,176.7 255.0,185.0 C247.2,193.3 238.8,200.5 228.0,205.0 C217.2,209.5 201.7,212.8 190.0,212.0 C178.3,211.2 167.0,205.3 158.0,200.0 C149.0,194.7 141.7,185.8 136.0,180.0 C130.3,174.2 124.7,159.2 124.0,165.0Z" fill="#0a2070" filter="url(#b1.2)"/><path d="M129.0,110.0 C128.8,112.3 128.2,121.7 128.0,124.0" fill="none" stroke="#c8d2f6" stroke-width="4.5" stroke-linecap="round" filter="url(#b0.8)"/><path d="M130.0,160.0 C130.2,162.7 130.8,173.3 131.0,176.0" fill="none" stroke="#c8d2f6" stroke-width="4.5" stroke-linecap="round" filter="url(#b0.8)"/><path d="M142.0,222.0 C143.3,224.7 148.7,235.3 150.0,238.0" fill="none" stroke="#c8d2f6" stroke-width="4.5" stroke-linecap="round" filter="url(#b0.8)"/><path d="M165.0,55.0 C166.8,53.7 174.2,48.3 176.0,47.0" fill="none" stroke="#c8d2f6" stroke-width="4.5" stroke-linecap="round" filter="url(#b0.8)"/><ellipse cx="212" cy="24" rx="11" ry="6" fill="#7f8fbf" filter="url(#b1)"/><ellipse cx="245" cy="20" rx="10" ry="6" fill="#7f8fbf" filter="url(#b1)"/><ellipse cx="268" cy="22" rx="8" ry="6" fill="#7f8fbf" filter="url(#b1)"/><ellipse cx="270" cy="240" rx="10" ry="26" fill="#c8d2f6" filter="url(#b1.5)" opacity="0.85"/><ellipse cx="200" cy="266" rx="18" ry="5" fill="#c8d2f6" filter="url(#b1)" opacity="0.9"/><ellipse cx="108.2" cy="79.1" rx="5" ry="6" fill="#5a70b0" filter="url(#b1)"/></g></g>
<clipPath id="clipc11"><rect x="0" y="0" width="270.0" height="266.79999999999995"/></clipPath><g transform="translate(1350.2,1157.4)"><g clip-path="url(#clipc11)"><rect x="-2" y="-2" width="274.0" height="270.79999999999995" fill="#000"/><g transform="translate(15.3,12.2)"><path d="M-8.0,190.0 C-5.8,178.0 7.3,169.2 15.0,160.0 C22.7,150.8 32.2,138.8 38.0,135.0 C43.8,131.2 44.3,132.0 50.0,137.0 C55.7,142.0 66.7,153.7 72.0,165.0 C77.3,176.3 82.3,192.8 82.0,205.0 C81.7,217.2 77.8,231.2 70.0,238.0 C62.2,244.8 46.3,247.0 35.0,246.0 C23.7,245.0 9.2,241.3 2.0,232.0 C-5.2,222.7 -10.2,202.0 -8.0,190.0Z" fill="#1e1e1e" filter="url(#b1)"/><path d="M8.0,195.0 C11.0,185.8 22.0,168.7 28.0,160.0 C34.0,151.3 39.0,143.0 44.0,143.0 C49.0,143.0 54.0,152.2 58.0,160.0 C62.0,167.8 67.7,179.7 68.0,190.0 C68.3,200.3 66.3,216.0 60.0,222.0 C53.7,228.0 38.3,227.2 30.0,226.0 C21.7,224.8 13.7,220.2 10.0,215.0 C6.3,209.8 5.0,204.2 8.0,195.0Z" fill="#7c7c7c" filter="url(#b2)" opacity="0.95"/><ellipse cx="40" cy="182.2" rx="9" ry="9" fill="#f4f4f4"/><ellipse cx="40" cy="182.2" rx="4" ry="4" fill="#1e1e1e"/><path d="M300.0,-10.0 C286.7,-56.3 242.6,-1.5 220.0,2.0 C197.4,5.5 180.7,4.9 164.3,10.9 C147.9,16.9 133.4,27.6 121.8,38.2 C110.2,48.8 101.2,59.9 94.6,74.6 C88.0,89.2 84.4,109.4 82.4,126.1 C80.4,142.8 80.9,156.4 82.4,174.6 C83.9,192.8 89.0,219.4 91.5,235.3 C94.0,251.2 62.8,262.6 97.6,270.0 C132.3,277.4 266.3,326.7 300.0,280.0 C333.7,233.3 313.3,36.3 300.0,-10.0Z" fill="#262626" filter="url(#b1)"/><path d="M220.0,2.0 C210.7,3.5 180.7,4.9 164.3,10.9 C147.9,16.9 133.4,27.6 121.8,38.2 C110.2,48.8 101.2,59.9 94.6,74.6 C88.0,89.2 84.4,109.4 82.4,126.1 C80.4,142.8 80.9,156.4 82.4,174.6 C83.9,192.8 90.0,225.2 91.5,235.3" fill="none" stroke="#7a7a7a" stroke-width="1.2" stroke-linecap="round" opacity="0.7"/><path d="M300.0,31.0 C279.7,-9.7 204.6,31.0 178.0,32.0 C151.4,33.0 150.5,29.3 140.2,37.2 C129.8,45.2 121.5,65.1 115.9,79.7 C110.3,94.3 107.8,109.9 106.8,125.1 C105.8,140.2 106.8,154.4 109.8,170.6 C112.8,186.8 117.9,209.0 125.0,222.2 C132.1,235.3 146.0,240.5 152.3,249.5 C158.6,258.5 138.4,271.6 163.0,276.0 C187.6,280.4 277.2,316.8 300.0,276.0 C322.8,235.2 320.3,71.7 300.0,31.0Z" fill="#3a3a3a" filter="url(#b3)" opacity="0.8"/><path d="M300.0,35.0 C281.7,-5.7 214.6,35.0 190.0,36.0 C165.4,37.0 162.5,33.2 152.2,41.2 C141.8,49.2 133.5,69.1 127.9,83.7 C122.3,98.3 119.8,113.9 118.8,129.1 C117.8,144.2 118.8,158.4 121.8,174.6 C124.8,190.8 129.9,213.0 137.0,226.2 C144.1,239.3 158.0,244.5 164.3,253.5 C170.6,262.5 152.4,275.6 175.0,280.0 C197.6,284.4 279.2,320.8 300.0,280.0 C320.8,239.2 318.3,75.7 300.0,35.0Z" fill="#939393" filter="url(#b1)"/><path d="M300.0,35.0 C281.7,-5.7 214.6,35.0 190.0,36.0 C165.4,37.0 162.5,33.2 152.2,41.2 C141.8,49.2 133.5,69.1 127.9,83.7 C122.3,98.3 119.8,113.9 118.8,129.1 C117.8,144.2 118.8,158.4 121.8,174.6 C124.8,190.8 129.9,213.0 137.0,226.2 C144.1,239.3 158.0,244.5 164.3,253.5 C170.6,262.5 152.4,275.6 175.0,280.0 C197.6,284.4 279.2,320.8 300.0,280.0 C320.8,239.2 318.3,75.7 300.0,35.0Z" fill="url(#cttex)" opacity="0.45" filter="url(#b0.8)"/><path d="M124.0,165.0 C123.3,170.8 126.8,201.7 132.0,215.0 C137.2,228.3 143.7,237.8 155.0,245.0 C166.3,252.2 185.8,257.5 200.0,258.0 C214.2,258.5 229.7,255.2 240.0,248.0 C250.3,240.8 256.2,227.2 262.0,215.0 C267.8,202.8 272.8,185.0 275.0,175.0 C277.2,165.0 278.3,153.3 275.0,155.0 C271.7,156.7 262.8,176.7 255.0,185.0 C247.2,193.3 238.8,200.5 228.0,205.0 C217.2,209.5 201.7,212.8 190.0,212.0 C178.3,211.2 167.0,205.3 158.0,200.0 C149.0,194.7 141.7,185.8 136.0,180.0 C130.3,174.2 124.7,159.2 124.0,165.0Z" fill="#000" filter="url(#b1.2)"/><path d="M129.0,110.0 C128.8,112.3 128.2,121.7 128.0,124.0" fill="none" stroke="#f4f4f4" stroke-width="4.5" stroke-linecap="round" filter="url(#b0.8)"/><path d="M130.0,160.0 C130.2,162.7 130.8,173.3 131.0,176.0" fill="none" stroke="#f4f4f4" stroke-width="4.5" stroke-linecap="round" filter="url(#b0.8)"/><path d="M142.0,222.0 C143.3,224.7 148.7,235.3 150.0,238.0" fill="none" stroke="#f4f4f4" stroke-width="4.5" stroke-linecap="round" filter="url(#b0.8)"/><path d="M165.0,55.0 C166.8,53.7 174.2,48.3 176.0,47.0" fill="none" stroke="#f4f4f4" stroke-width="4.5" stroke-linecap="round" filter="url(#b0.8)"/><ellipse cx="212" cy="24" rx="11" ry="6" fill="#8a8a8a" filter="url(#b1)"/><ellipse cx="245" cy="20" rx="10" ry="6" fill="#8a8a8a" filter="url(#b1)"/><ellipse cx="268" cy="22" rx="8" ry="6" fill="#8a8a8a" filter="url(#b1)"/><ellipse cx="270" cy="240" rx="10" ry="26" fill="#f4f4f4" filter="url(#b1.5)" opacity="0.85"/><ellipse cx="200" cy="266" rx="18" ry="5" fill="#f4f4f4" filter="url(#b1)" opacity="0.9"/><ellipse cx="108.2" cy="79.1" rx="4" ry="5" fill="#6a6a6a" filter="url(#b1)"/></g></g></g>
<clipPath id="clipc12"><rect x="0" y="0" width="270.39999999999986" height="266.79999999999995"/></clipPath><g transform="translate(1620.2,1157.4)"><g clip-path="url(#clipc12)"><rect x="-2" y="-2" width="274.39999999999986" height="270.79999999999995" fill="#fff"/><path d="M9.0,165.0 C16.5,158.7 36.0,151.2 44.8,152.0 C53.6,152.8 58.3,158.3 62.0,170.0 C65.7,181.7 70.7,212.0 67.0,222.0 C63.3,232.0 50.2,230.3 40.0,230.0 C29.8,229.7 12.7,226.7 6.0,220.0 C-0.7,213.3 -0.5,199.2 0.0,190.0 C0.5,180.8 1.5,171.3 9.0,165.0Z" fill="#dcdcdc" filter="url(#b7)"/><ellipse cx="40" cy="185" rx="8" ry="12" fill="#cdcdcd" filter="url(#b5)"/><path d="M300.0,-20.0 C295.2,-66.8 286.2,-0.3 271.0,4.5 C255.8,9.3 229.3,6.8 209.0,9.0 C188.7,11.2 164.3,13.2 149.4,17.9 C134.5,22.6 128.2,29.8 119.5,37.3 C110.8,44.8 103.1,52.7 97.1,62.7 C91.1,72.7 86.9,85.1 83.7,97.1 C80.5,109.1 78.7,120.8 77.7,134.5 C76.7,148.2 76.7,164.4 77.7,179.3 C78.7,194.2 81.2,208.1 83.7,224.0 C86.2,239.9 56.5,264.8 92.6,275.0 C128.7,285.2 265.4,334.2 300.0,285.0 C334.6,235.8 304.8,26.8 300.0,-20.0Z" fill="#ececec" filter="url(#b4)"/><path d="M150.0,30.0 C145.7,33.3 131.7,42.7 124.0,50.0 C116.3,57.3 109.3,65.0 104.0,74.0 C98.7,83.0 94.7,93.0 92.0,104.0 C89.3,115.0 88.7,127.3 88.0,140.0 C87.3,152.7 87.0,166.3 88.0,180.0 C89.0,193.7 91.7,207.7 94.0,222.0 C96.3,236.3 100.7,258.7 102.0,266.0" fill="none" stroke="#dcdcdc" stroke-width="10" stroke-linecap="round" filter="url(#b5)" opacity="0.8"/><path d="M127.0,142.0 C126.2,132.1 127.5,115.3 130.0,104.6 C132.5,93.9 136.3,84.7 142.0,77.7 C147.7,70.7 156.9,65.9 164.3,62.7 C171.8,59.5 180.5,57.3 186.7,58.3 C192.9,59.3 195.5,65.5 201.7,68.7 C207.9,71.9 216.5,77.2 224.0,77.7 C231.5,78.2 241.5,75.9 246.5,71.7 C251.5,67.5 249.2,56.0 254.0,52.3 C258.8,48.6 271.5,33.0 275.0,49.3 C278.5,65.6 279.8,135.8 275.0,150.0 C270.2,164.2 253.8,134.6 246.5,134.5 C239.2,134.4 236.5,143.2 231.5,149.4 C226.5,155.6 222.8,164.3 216.6,171.8 C210.4,179.3 201.7,189.7 194.2,194.2 C186.7,198.7 179.3,199.9 171.8,198.7 C164.3,197.4 155.6,192.4 149.4,186.7 C143.2,181.0 138.2,171.8 134.5,164.3 C130.8,156.9 127.8,151.9 127.0,142.0Z" fill="#848484" filter="url(#b4)"/><path d="M127.0,142.0 C126.2,132.1 127.5,115.3 130.0,104.6 C132.5,93.9 136.3,84.7 142.0,77.7 C147.7,70.7 156.9,65.9 164.3,62.7 C171.8,59.5 180.5,57.3 186.7,58.3 C192.9,59.3 195.5,65.5 201.7,68.7 C207.9,71.9 216.5,77.2 224.0,77.7 C231.5,78.2 241.5,75.9 246.5,71.7 C251.5,67.5 249.2,56.0 254.0,52.3 C258.8,48.6 271.5,33.0 275.0,49.3 C278.5,65.6 279.8,135.8 275.0,150.0 C270.2,164.2 253.8,134.6 246.5,134.5 C239.2,134.4 236.5,143.2 231.5,149.4 C226.5,155.6 222.8,164.3 216.6,171.8 C210.4,179.3 201.7,189.7 194.2,194.2 C186.7,198.7 179.3,199.9 171.8,198.7 C164.3,197.4 155.6,192.4 149.4,186.7 C143.2,181.0 138.2,171.8 134.5,164.3 C130.8,156.9 127.8,151.9 127.0,142.0Z" fill="url(#pettex)" opacity="0.4" filter="url(#b2)"/><ellipse cx="175" cy="160" rx="18" ry="14" fill="#777777" filter="url(#b5)"/><path d="M246.5,145.0 C251.2,135.8 270.2,135.0 275.0,145.0 C279.8,155.0 279.8,195.8 275.0,205.0 C270.2,214.2 251.2,210.0 246.5,200.0 C241.8,190.0 241.8,154.2 246.5,145.0Z" fill="#949494" filter="url(#b6)"/><path d="M130.0,205.0 C135.7,207.2 148.3,227.8 160.0,235.0 C171.7,242.2 187.5,247.2 200.0,248.0 C212.5,248.8 222.5,243.8 235.0,240.0 C247.5,236.2 268.3,225.0 275.0,225.0 C281.7,225.0 281.7,234.8 275.0,240.0 C268.3,245.2 248.3,252.0 235.0,256.0 C221.7,260.0 209.2,265.0 195.0,264.0 C180.8,263.0 161.5,257.0 150.0,250.0 C138.5,243.0 129.3,229.5 126.0,222.0 C122.7,214.5 124.3,202.8 130.0,205.0Z" fill="#c8c8c8" filter="url(#b6)"/><ellipse cx="255" cy="235" rx="20" ry="25" fill="#b8b8b8" filter="url(#b8)"/><ellipse cx="106" cy="85.1" rx="5.5" ry="6" fill="#8e8e8e" filter="url(#b2.5)"/></g></g>
<line x1="1080.5" y1="1157.4" x2="1350.2" y2="1157.4" stroke="#c8c8c8" stroke-width="2"/>
<line x1="258.2" y1="939.4" x2="281.4" y2="954.9" stroke="#fff" stroke-width="3.2" stroke-linecap="round"/><polygon points="290.6,961.0 278.1,959.9 284.8,949.9" fill="#fff"/>
<line x1="530.0" y1="942.0" x2="552.9" y2="956.7" stroke="#fff" stroke-width="3.2" stroke-linecap="round"/><polygon points="562.2,962.6 549.7,961.8 556.2,951.6" fill="#fff"/>
<line x1="786.6" y1="943.8" x2="808.9" y2="959.2" stroke="#000" stroke-width="3.2" stroke-linecap="round"/><polygon points="818.0,965.4 805.5,964.2 812.4,954.2" fill="#000"/>
<line x1="245.9" y1="1217.5" x2="269.0" y2="1231.8" stroke="#fff" stroke-width="3.2" stroke-linecap="round"/><polygon points="278.3,1237.6 265.8,1236.9 272.1,1226.7" fill="#fff"/>
<line x1="512.5" y1="1221.5" x2="533.5" y2="1235.8" stroke="#fff" stroke-width="3.2" stroke-linecap="round"/><polygon points="542.6,1242.0 530.1,1240.8 536.9,1230.8" fill="#fff"/>
<line x1="788.1" y1="1222.2" x2="810.3" y2="1237.0" stroke="#000" stroke-width="3.2" stroke-linecap="round"/><polygon points="819.5,1243.1 807.0,1242.0 813.7,1232.0" fill="#000"/>
<line x1="1149.3" y1="965.4" x2="1171.9" y2="980.5" stroke="#fff" stroke-width="3.2" stroke-linecap="round"/><polygon points="1181.1,986.6 1168.6,985.5 1175.3,975.5" fill="#fff"/>
<line x1="1431.0" y1="974.5" x2="1453.9" y2="989.6" stroke="#fff" stroke-width="3.2" stroke-linecap="round"/><polygon points="1463.1,995.7 1450.6,994.7 1457.3,984.6" fill="#fff"/>
<line x1="1669.3" y1="961.7" x2="1691.5" y2="976.5" stroke="#000" stroke-width="3.2" stroke-linecap="round"/><polygon points="1700.7,982.6 1688.2,981.5 1694.9,971.5" fill="#000"/>
<line x1="1147.8" y1="1207.6" x2="1170.4" y2="1222.7" stroke="#fff" stroke-width="3.2" stroke-linecap="round"/><polygon points="1179.6,1228.8 1167.1,1227.7 1173.8,1217.7" fill="#fff"/>
<line x1="1433.5" y1="1219.2" x2="1456.0" y2="1234.2" stroke="#fff" stroke-width="3.2" stroke-linecap="round"/><polygon points="1465.1,1240.3 1452.6,1239.2 1459.3,1229.2" fill="#fff"/>
<line x1="1679.8" y1="1208.5" x2="1702.1" y2="1223.9" stroke="#000" stroke-width="3.2" stroke-linecap="round"/><polygon points="1711.1,1230.2 1698.6,1228.9 1705.5,1219.0" fill="#000"/>
<text x="1081.1" y="1101.5" font-size="17" font-weight="normal" fill="#e8e8e8" textLength="23" lengthAdjust="spacingAndGlyphs">.00</text>
<text x="1081.1" y="1368.4" font-size="17" font-weight="normal" fill="#e8e8e8" textLength="30" lengthAdjust="spacingAndGlyphs">0.00</text>
<rect x="1050.1" y="890.5" width="6.9" height="532" fill="#000"/>
<text x="121.7" y="1017.8" font-size="28" font-weight="bold" font-style="italic" text-anchor="middle" textLength="40.4" lengthAdjust="spacingAndGlyphs">Pre</text>
<text x="118.6" y="1054.5" font-size="28" font-weight="bold" font-style="italic" text-anchor="middle" textLength="154.1" lengthAdjust="spacingAndGlyphs">Dacarbazine</text>
<text x="123.5" y="1090.0" font-size="28" font-weight="bold" font-style="italic" text-anchor="middle" textLength="129.7" lengthAdjust="spacingAndGlyphs">Treatment</text>
<text x="121.7" y="1235.5" font-size="28" font-weight="bold" font-style="italic" text-anchor="middle" textLength="52.6" lengthAdjust="spacingAndGlyphs">Post</text>
<text x="118.6" y="1271.7" font-size="28" font-weight="bold" font-style="italic" text-anchor="middle" textLength="154.1" lengthAdjust="spacingAndGlyphs">Dacarbazine</text>
<text x="123.5" y="1308.9" font-size="28" font-weight="bold" font-style="italic" text-anchor="middle" textLength="129.7" lengthAdjust="spacingAndGlyphs">Treatment</text>
<text x="1994.0" y="1015.4" font-size="28" font-weight="bold" font-style="italic" text-anchor="middle" textLength="41.5" lengthAdjust="spacingAndGlyphs">Pre</text>
<text x="1989.9" y="1051.5" font-size="28" font-weight="bold" font-style="italic" text-anchor="middle" textLength="156.2" lengthAdjust="spacingAndGlyphs">Gemcitabine</text>
<text x="1995.2" y="1088.3" font-size="28" font-weight="bold" font-style="italic" text-anchor="middle" textLength="129.6" lengthAdjust="spacingAndGlyphs">Treatment</text>
<text x="1994.7" y="1234.3" font-size="28" font-weight="bold" font-style="italic" text-anchor="middle" textLength="52.5" lengthAdjust="spacingAndGlyphs">Post</text>
<text x="1989.9" y="1270.5" font-size="28" font-weight="bold" font-style="italic" text-anchor="middle" textLength="156.2" lengthAdjust="spacingAndGlyphs">Gemcitabine</text>
<text x="1995.2" y="1306.8" font-size="28" font-weight="bold" font-style="italic" text-anchor="middle" textLength="129.6" lengthAdjust="spacingAndGlyphs">Treatment</text></g>
<g id="panelA"><line x1="60.2" y1="0" x2="60.2" y2="830" stroke="#f4f4f4" stroke-width="1"/>
<line x1="977.5" y1="0" x2="977.5" y2="830" stroke="#f4f4f4" stroke-width="1"/>
<defs><linearGradient id="tlg" x1="133" y1="0" x2="850" y2="0" gradientUnits="userSpaceOnUse"><stop offset="0" stop-color="#ffffff"/><stop offset="0.04" stop-color="#c7e3f6"/><stop offset="0.30" stop-color="#c4e1f5"/><stop offset="0.46" stop-color="#84bde5"/><stop offset="0.80" stop-color="#5eaee2"/><stop offset="0.93" stop-color="#3d9fdf"/><stop offset="1" stop-color="#ffffff"/></linearGradient><linearGradient id="tlv" x1="0" y1="753" x2="0" y2="818" gradientUnits="userSpaceOnUse"><stop offset="0" stop-color="#fff" stop-opacity="0"/><stop offset="0.85" stop-color="#fff" stop-opacity="0"/><stop offset="1" stop-color="#fff" stop-opacity="0.9"/></linearGradient></defs>
<rect x="133" y="753" width="717" height="64" fill="url(#tlg)"/>
<rect x="133" y="753" width="717" height="65" fill="url(#tlv)"/>
<line x1="131.8" y1="750" x2="833" y2="750" stroke="#1a1a1a" stroke-width="3.6"/>
<polygon points="847.5,750 827.7,740.5 827.7,759.5" fill="#1a1a1a"/>
<line x1="131.8" y1="738.5" x2="131.8" y2="763.2" stroke="#1a1a1a" stroke-width="3.4"/>
<line x1="457.2" y1="738.5" x2="457.2" y2="763.2" stroke="#1a1a1a" stroke-width="3.4"/>
<line x1="848.8" y1="738.5" x2="848.8" y2="763.2" stroke="#1a1a1a" stroke-width="3.4"/>
<text x="210.3" y="789.7" font-size="19" font-weight="bold" fill="#000" text-anchor="start" textLength="113.7" lengthAdjust="spacingAndGlyphs">PDX creation</text>
<text x="433.8" y="789.7" font-size="19" font-weight="bold" fill="#000" text-anchor="start" textLength="43.2" lengthAdjust="spacingAndGlyphs">Start</text>
<text x="514.5" y="781.7" font-size="15.5" font-weight="bold" fill="#000" text-anchor="start" textLength="256.7" lengthAdjust="spacingAndGlyphs">1, 4, 8, 11, 15, 18, 22, 25 and 29 day</text>
<text x="594.8" y="798.5" font-size="15.5" font-weight="bold" fill="#000" text-anchor="start" textLength="98.4" lengthAdjust="spacingAndGlyphs">measurement</text>
<text x="815.3" y="789.7" font-size="19" font-weight="bold" fill="#000" text-anchor="start" textLength="67.5" lengthAdjust="spacingAndGlyphs">32 days</text>
<path d="M150,246 L152,290 Q150,302 152,306 Q160,309 166,304 L166,290 L168,246 Z" fill="#c9d2d4"/><path d="M183,246 L185,292 Q190,298 205,299 Q214,299 214,295 Q205,291 199,288 L200,246 Z" fill="#b9c3c6"/><path d="M207,128 Q212,140 214,146 Q222,146 232,142 L236,133 Q234,128 228,130 Q220,133 216,128 Z" fill="#c9d2d4"/><path d="M146.6,81.4 L163.8,70.4 L190.4,70.4 L207.6,79.8 Q216,96 220.2,125.2 L212.3,129.9 L210,140.8 L204.5,247.3 L147.4,248.8 L145.8,187.8 Q144,150 141,120.5 L137.2,118.9 Q140,95 146.6,81.4 Z" fill="#b4ced5"/><path d="M195,160 Q200,200 204,246 L192,247 Q196,205 195,160 Z" fill="#9fc3cb" opacity="0.9"/><path d="M165,200 Q160,225 158,245 L150,246 Q156,222 165,200 Z" fill="#9fc3cb" opacity="0.8"/><path d="M205,82 Q212,100 214,124 L210,125 Q209,100 205,82 Z" fill="#8fb8c2" opacity="0.6"/><path d="M166,72 L177,80 L188,72 Z" fill="#b9c3c6"/><path d="M138.5,119 Q141,150 147,170 Q149,186 151,193 Q156,198 161,194 Q162,182 158,170 Q154,148 153.5,124 Z" fill="#c9d2d4" stroke="#b7c1c4" stroke-width="0.6"/><path d="M169,70 L171,62 L187,62 L189,70 Q180,76 169,70 Z" fill="#b9c3c6"/><ellipse cx="179.5" cy="46" rx="15" ry="19.5" fill="#b2bdc1"/><path d="M170,38 Q180,34 192,40 Q195,52 190,62 Q184,67 176,64 Q170,58 170,38 Z" fill="#c9d2d4"/><path d="M162.3,147.1 Q166,141 171.6,140.8 L190.4,141.6 L211.5,142.4 Q210,147 207.6,150.2 Q199,158 190.4,162.8 Q182,166 174.8,169 Q168,172 163.8,173.7 Q160,165 162.3,147.1 Z" fill="#ad6858" stroke="#8f4d3f" stroke-width="0.8"/><path d="M190,142 Q189,152 191,161" fill="none" stroke="#8f4d3f" stroke-width="0.8"/><circle cx="174" cy="154.1" r="7.8" fill="#d88a68"/><circle cx="174" cy="154.1" r="6.3" fill="#3b2a24"/><rect x="229.2" y="20" width="3.8" height="266" fill="#b9b9b9"/><path d="M209,24 Q205,21 208,19 L254,19 Q257,21 253,24" fill="none" stroke="#9a9a9a" stroke-width="1.4"/><rect x="228.6" y="15" width="5" height="7" rx="1.5" fill="#3d6fd6"/><rect x="224" y="29.5" width="24.3" height="44" rx="4" fill="#bcdde8" stroke="#96c4d2" stroke-width="1"/><rect x="225.5" y="42" width="21.3" height="30" rx="3" fill="#a6cfdc"/><rect x="227" y="36" width="1.6" height="26" fill="#e8f4f8"/><rect x="229.5" y="74" width="4" height="6" fill="#3d6fd6"/><rect x="237.6" y="82" width="2.4" height="7" rx="1" fill="#3d8fc0"/><path d="M201,276 L266,296 M261,274 L200,297" stroke="#a9a9a9" stroke-width="3.2" stroke-linecap="round"/><circle cx="201" cy="278" r="2.8" fill="#555"/><circle cx="261" cy="276" r="2.8" fill="#555"/><circle cx="202" cy="300" r="2.8" fill="#555"/><circle cx="266" cy="299" r="2.8" fill="#555"/>
<g transform="translate(221.6,0)"><path d="M150,246 L152,290 Q150,302 152,306 Q160,309 166,304 L166,290 L168,246 Z" fill="#c9d2d4"/><path d="M183,246 L185,292 Q190,298 205,299 Q214,299 214,295 Q205,291 199,288 L200,246 Z" fill="#b9c3c6"/><path d="M207,128 Q212,140 214,146 Q222,146 232,142 L236,133 Q234,128 228,130 Q220,133 216,128 Z" fill="#c9d2d4"/><path d="M146.6,81.4 L163.8,70.4 L190.4,70.4 L207.6,79.8 Q216,96 220.2,125.2 L212.3,129.9 L210,140.8 L204.5,247.3 L147.4,248.8 L145.8,187.8 Q144,150 141,120.5 L137.2,118.9 Q140,95 146.6,81.4 Z" fill="#b4ced5"/><path d="M195,160 Q200,200 204,246 L192,247 Q196,205 195,160 Z" fill="#9fc3cb" opacity="0.9"/><path d="M165,200 Q160,225 158,245 L150,246 Q156,222 165,200 Z" fill="#9fc3cb" opacity="0.8"/><path d="M205,82 Q212,100 214,124 L210,125 Q209,100 205,82 Z" fill="#8fb8c2" opacity="0.6"/><path d="M166,72 L177,80 L188,72 Z" fill="#b9c3c6"/><path d="M138.5,119 Q141,150 147,170 Q149,186 151,193 Q156,198 161,194 Q162,182 158,170 Q154,148 153.5,124 Z" fill="#c9d2d4" stroke="#b7c1c4" stroke-width="0.6"/><path d="M169,70 L171,62 L187,62 L189,70 Q180,76 169,70 Z" fill="#b9c3c6"/><ellipse cx="179.5" cy="46" rx="15" ry="19.5" fill="#b2bdc1"/><path d="M170,38 Q180,34 192,40 Q195,52 190,62 Q184,67 176,64 Q170,58 170,38 Z" fill="#c9d2d4"/><path d="M162.3,147.1 Q166,141 171.6,140.8 L190.4,141.6 L211.5,142.4 Q210,147 207.6,150.2 Q199,158 190.4,162.8 Q182,166 174.8,169 Q168,172 163.8,173.7 Q160,165 162.3,147.1 Z" fill="#ad6858" stroke="#8f4d3f" stroke-width="0.8"/><path d="M190,142 Q189,152 191,161" fill="none" stroke="#8f4d3f" stroke-width="0.8"/><circle cx="174" cy="154.1" r="7.8" fill="#d88a68"/><circle cx="174" cy="154.1" r="6.3" fill="#3b2a24"/><rect x="229.2" y="20" width="3.8" height="266" fill="#b9b9b9"/><path d="M209,24 Q205,21 208,19 L254,19 Q257,21 253,24" fill="none" stroke="#9a9a9a" stroke-width="1.4"/><rect x="228.6" y="15" width="5" height="7" rx="1.5" fill="#3d6fd6"/><rect x="224" y="29.5" width="24.3" height="44" rx="4" fill="#bcdde8" stroke="#96c4d2" stroke-width="1"/><rect x="225.5" y="42" width="21.3" height="30" rx="3" fill="#a6cfdc"/><rect x="227" y="36" width="1.6" height="26" fill="#e8f4f8"/><rect x="229.5" y="74" width="4" height="6" fill="#3d6fd6"/><rect x="237.6" y="82" width="2.4" height="7" rx="1" fill="#3d8fc0"/><path d="M201,276 L266,296 M261,274 L200,297" stroke="#a9a9a9" stroke-width="3.2" stroke-linecap="round"/><circle cx="201" cy="278" r="2.8" fill="#555"/><circle cx="261" cy="276" r="2.8" fill="#555"/><circle cx="202" cy="300" r="2.8" fill="#555"/><circle cx="266" cy="299" r="2.8" fill="#555"/></g>
<g transform="translate(559.9,0)"><path d="M150,246 L152,290 Q150,302 152,306 Q160,309 166,304 L166,290 L168,246 Z" fill="#c9d2d4"/><path d="M183,246 L185,292 Q190,298 205,299 Q214,299 214,295 Q205,291 199,288 L200,246 Z" fill="#b9c3c6"/><path d="M207,128 Q212,140 214,146 Q222,146 232,142 L236,133 Q234,128 228,130 Q220,133 216,128 Z" fill="#c9d2d4"/><path d="M146.6,81.4 L163.8,70.4 L190.4,70.4 L207.6,79.8 Q216,96 220.2,125.2 L212.3,129.9 L210,140.8 L204.5,247.3 L147.4,248.8 L145.8,187.8 Q144,150 141,120.5 L137.2,118.9 Q140,95 146.6,81.4 Z" fill="#b4ced5"/><path d="M195,160 Q200,200 204,246 L192,247 Q196,205 195,160 Z" fill="#9fc3cb" opacity="0.9"/><path d="M165,200 Q160,225 158,245 L150,246 Q156,222 165,200 Z" fill="#9fc3cb" opacity="0.8"/><path d="M205,82 Q212,100 214,124 L210,125 Q209,100 205,82 Z" fill="#8fb8c2" opacity="0.6"/><path d="M166,72 L177,80 L188,72 Z" fill="#b9c3c6"/><path d="M138.5,119 Q141,150 147,170 Q149,186 151,193 Q156,198 161,194 Q162,182 158,170 Q154,148 153.5,124 Z" fill="#c9d2d4" stroke="#b7c1c4" stroke-width="0.6"/><path d="M169,70 L171,62 L187,62 L189,70 Q180,76 169,70 Z" fill="#b9c3c6"/><ellipse cx="179.5" cy="46" rx="15" ry="19.5" fill="#b2bdc1"/><path d="M170,38 Q180,34 192,40 Q195,52 190,62 Q184,67 176,64 Q170,58 170,38 Z" fill="#c9d2d4"/><path d="M162.3,147.1 Q166,141 171.6,140.8 L190.4,141.6 L211.5,142.4 Q210,147 207.6,150.2 Q199,158 190.4,162.8 Q182,166 174.8,169 Q168,172 163.8,173.7 Q160,165 162.3,147.1 Z" fill="#ad6858" stroke="#8f4d3f" stroke-width="0.8"/><path d="M190,142 Q189,152 191,161" fill="none" stroke="#8f4d3f" stroke-width="0.8"/><ellipse cx="172" cy="155" rx="4" ry="3" fill="#3b2a24"/><rect x="229.2" y="20" width="3.8" height="266" fill="#b9b9b9"/><path d="M209,24 Q205,21 208,19 L254,19 Q257,21 253,24" fill="none" stroke="#9a9a9a" stroke-width="1.4"/><rect x="228.6" y="15" width="5" height="7" rx="1.5" fill="#3d6fd6"/><rect x="224" y="29.5" width="24.3" height="44" rx="4" fill="#bcdde8" stroke="#96c4d2" stroke-width="1"/><rect x="225.5" y="42" width="21.3" height="30" rx="3" fill="#a6cfdc"/><rect x="227" y="36" width="1.6" height="26" fill="#e8f4f8"/><rect x="229.5" y="74" width="4" height="6" fill="#3d6fd6"/><rect x="237.6" y="82" width="2.4" height="7" rx="1" fill="#3d8fc0"/><path d="M201,276 L266,296 M261,274 L200,297" stroke="#a9a9a9" stroke-width="3.2" stroke-linecap="round"/><circle cx="201" cy="278" r="2.8" fill="#555"/><circle cx="261" cy="276" r="2.8" fill="#555"/><circle cx="202" cy="300" r="2.8" fill="#555"/><circle cx="266" cy="299" r="2.8" fill="#555"/></g>
<line x1="281" y1="160.3" x2="328.7" y2="160.3" stroke="#1a1a1a" stroke-width="3.2"/><polygon points="342.7,160.3 327.7,152.3 327.7,168.3" fill="#1a1a1a"/>
<line x1="619.4" y1="157.2" x2="667.1" y2="157.2" stroke="#1a1a1a" stroke-width="3.2"/><polygon points="681.1,157.2 666.1,149.2 666.1,165.2" fill="#1a1a1a"/>
<g transform="translate(0,0)"><g transform="translate(547.0,118.7) rotate(-28)"><path d="M0,-7.25 L12.75,-7.25 A7.25,7.25 0 0 1 12.75,7.25 L0,7.25 Z" fill="#dcdcdc" stroke="#c2c2c2" stroke-width="0.8"/><path d="M0,-7.25 L-12.75,-7.25 A7.25,7.25 0 0 0 -12.75,7.25 L0,7.25 Z" fill="#819fd7" stroke="#6d8fd0" stroke-width="0.8"/></g><g transform="translate(565.7,132.5) rotate(-35.5) scale(-1,1)"><path d="M0,-7.25 L12.75,-7.25 A7.25,7.25 0 0 1 12.75,7.25 L0,7.25 Z" fill="#dcdcdc" stroke="#c2c2c2" stroke-width="0.8"/><path d="M0,-7.25 L-12.75,-7.25 A7.25,7.25 0 0 0 -12.75,7.25 L0,7.25 Z" fill="#819fd7" stroke="#6d8fd0" stroke-width="0.8"/></g><g transform="translate(559.5,151.0) rotate(-22)"><path d="M0,-7.25 L12.75,-7.25 A7.25,7.25 0 0 1 12.75,7.25 L0,7.25 Z" fill="#dcdcdc" stroke="#c2c2c2" stroke-width="0.8"/><path d="M0,-7.25 L-12.75,-7.25 A7.25,7.25 0 0 0 -12.75,7.25 L0,7.25 Z" fill="#819fd7" stroke="#6d8fd0" stroke-width="0.8"/></g></g>
<text x="534.5" y="187.6" font-size="22.5" font-weight="bold" fill="#2b78c4" text-anchor="start" textLength="48.5" lengthAdjust="spacingAndGlyphs">Drug</text>
<text x="508.7" y="213.9" font-size="22.5" font-weight="bold" fill="#2b78c4" text-anchor="start" textLength="100.8" lengthAdjust="spacingAndGlyphs">treatment</text>
<path d="M945.8,88.5 L956.6,90.8 L953.5,147.9 L945,152.5 Z" fill="#8ea3d9"/><path d="M889.4,90 L945.8,88.5 L945,152.5 L890.2,146.4 Z" fill="#e3e3e3" stroke="#b9b9b9" stroke-width="0.8"/><path d="M889.4,90 L945.8,88.5 L956.6,90.8 L900,91.5 Z" fill="#8ea3d9"/><ellipse cx="918" cy="118" rx="23.5" ry="27" fill="#dedede" stroke="#6f8ed6" stroke-width="1.6"/><ellipse cx="918" cy="117" rx="9" ry="11" fill="#b2b2b2"/><ellipse cx="922" cy="116.3" rx="4.8" ry="9.6" fill="#ffffff"/><circle cx="899.5" cy="114" r="1.6" fill="#222"/><circle cx="934.2" cy="117.8" r="1.6" fill="#222"/><circle cx="917.2" cy="95.4" r="1.6" fill="#222"/><circle cx="917.2" cy="103" r="1.6" fill="#222"/><path d="M850.8,149.5 L907.2,138.7 L907.2,154.1 L866.3,174.2 L851.6,168.8 Z" fill="#c7c7c7" stroke="#a9a9a9" stroke-width="0.8"/><path d="M851.6,164 L866.3,170 L907.2,151 L907.2,154.1 L866.3,174.2 L851.6,168.8 Z" fill="#7a7a7a"/><path d="M850.8,149.5 L866,150 L866.3,174.2 L851.6,168.8 Z" fill="#e2e2e2"/><path d="M840,137.9 L915.7,123.2 L915.7,132.5 L857,147.9 L840,143.3 Z" fill="#9fb1e0" stroke="#8ea3d9" stroke-width="0.8"/><path d="M840,143.3 L857,147.9 L915.7,132.5 L915.7,135 L857,150.5 L840,146 Z" fill="#d8d8d8"/><path d="M900,125 L915,121.5 Q918,124 915.7,128 L900,130 Z" fill="#8ea3d9"/>
<text x="846.5" y="199.6" font-size="22.5" font-weight="bold" fill="#2b78c4" text-anchor="start" textLength="104.5" lengthAdjust="spacingAndGlyphs">Outcomes</text>
<text x="849.2" y="222.5" font-size="22.5" font-weight="bold" fill="#2b78c4" text-anchor="start" textLength="99.2" lengthAdjust="spacingAndGlyphs">of patient</text>
<text x="83.6" y="346.4" font-size="22" font-weight="bold" fill="#000" text-anchor="start" textLength="237.4" lengthAdjust="spacingAndGlyphs">Patient diagnosed with</text>
<text x="127.4" y="368.8" font-size="22" font-weight="bold" fill="#000" text-anchor="start" textLength="150.6" lengthAdjust="spacingAndGlyphs">metastatic UM</text>
<line x1="202" y1="400.3" x2="202" y2="448" stroke="#1a1a1a" stroke-width="3.2"/><polygon points="202,462 194,447 210,447" fill="#1a1a1a"/>
<line x1="782.4" y1="363.8" x2="782.4" y2="451.2" stroke="#1a1a1a" stroke-width="3.2"/><polygon points="782.4,465.2 774.4,450.2 790.4,450.2" fill="#1a1a1a"/><polygon points="782.4,349.8 774.4,364.8 790.4,364.8" fill="#1a1a1a"/>
<text x="650.9" y="404.4" font-size="22" font-weight="bold" fill="#000" text-anchor="start" textLength="114.1" lengthAdjust="spacingAndGlyphs">Correlation</text>
<text x="660.8" y="425.5" font-size="22" font-weight="bold" fill="#000" text-anchor="start" textLength="94.5" lengthAdjust="spacingAndGlyphs">response</text>
<g transform="translate(102.6,480.8) rotate(-20) scale(1.0)"><rect x="-9" y="-1" width="18" height="3.5" rx="1" fill="#e6eaec" stroke="#8a8a8a" stroke-width="0.8"/><rect x="-3.5" y="2" width="7" height="33" fill="#e6eaec" stroke="#9a9a9a" stroke-width="0.8"/><rect x="-15" y="33" width="30" height="5" rx="1.5" fill="#e6eaec" stroke="#8a8a8a" stroke-width="0.8"/><rect x="-10" y="38" width="20" height="67" fill="#e9edef" stroke="#8f8f8f" stroke-width="1"/><rect x="-8.5" y="56" width="17" height="8" fill="#5a5a5a"/><rect x="-8.5" y="64" width="17" height="40" fill="#d05a5c"/><line x1="3" y1="70" x2="8" y2="70" stroke="#444" stroke-width="0.8"/><line x1="3" y1="77" x2="8" y2="77" stroke="#444" stroke-width="0.8"/><line x1="3" y1="84" x2="8" y2="84" stroke="#444" stroke-width="0.8"/><line x1="3" y1="91" x2="8" y2="91" stroke="#444" stroke-width="0.8"/><line x1="3" y1="98" x2="8" y2="98" stroke="#444" stroke-width="0.8"/><path d="M-5,105 L5,105 L2,121 L-2,121 Z" fill="#2fa87c"/><line x1="0" y1="121" x2="0" y2="161" stroke="#333" stroke-width="1.3"/></g>
<g transform="translate(390.7,483.9) rotate(-20) scale(0.94)"><rect x="-9" y="-1" width="18" height="3.5" rx="1" fill="#e6eaec" stroke="#8a8a8a" stroke-width="0.8"/><rect x="-3.5" y="2" width="7" height="33" fill="#e6eaec" stroke="#9a9a9a" stroke-width="0.8"/><rect x="-15" y="33" width="30" height="5" rx="1.5" fill="#e6eaec" stroke="#8a8a8a" stroke-width="0.8"/><rect x="-10" y="38" width="20" height="67" fill="#e9edef" stroke="#8f8f8f" stroke-width="1"/><rect x="-8.5" y="56" width="17" height="8" fill="#5a5a5a"/><rect x="-8.5" y="64" width="17" height="40" fill="#1f6fa8"/><line x1="3" y1="70" x2="8" y2="70" stroke="#444" stroke-width="0.8"/><line x1="3" y1="77" x2="8" y2="77" stroke="#444" stroke-width="0.8"/><line x1="3" y1="84" x2="8" y2="84" stroke="#444" stroke-width="0.8"/><line x1="3" y1="91" x2="8" y2="91" stroke="#444" stroke-width="0.8"/><line x1="3" y1="98" x2="8" y2="98" stroke="#444" stroke-width="0.8"/><path d="M-5,105 L5,105 L2,121 L-2,121 Z" fill="#2fa87c"/><line x1="0" y1="121" x2="0" y2="161" stroke="#333" stroke-width="1.3"/></g>
<polygon points="256.4,528.1 253.6,532.7 253.9,538.1 249.3,540.9 247.1,545.8 241.7,546.1 237.5,549.4 232.6,547.3 227.3,548.2 223.9,544.0 218.8,542.4 217.8,537.1 214.0,533.2 215.6,528.1 214.0,523.0 217.8,519.1 218.8,513.8 223.9,512.2 227.3,508.0 232.6,508.9 237.5,506.8 241.7,510.1 247.1,510.4 249.3,515.3 253.9,518.1 253.6,523.5" fill="#9a484c" stroke="#8a3a3e" stroke-width="1" stroke-linejoin="round"/><circle cx="236.4" cy="528.6" r="8.3" fill="#6c1a1c"/><circle cx="222.9" cy="520.1" r="0.9" fill="#6e2a2e"/><circle cx="229.9" cy="513.1" r="0.9" fill="#6e2a2e"/><circle cx="242.9" cy="515.1" r="0.9" fill="#6e2a2e"/><circle cx="248.9" cy="532.1" r="0.9" fill="#6e2a2e"/><circle cx="220.9" cy="534.1" r="0.9" fill="#6e2a2e"/><circle cx="238.9" cy="542.1" r="0.9" fill="#6e2a2e"/><circle cx="228.9" cy="540.1" r="0.9" fill="#6e2a2e"/><circle cx="246.9" cy="525.1" r="0.9" fill="#6e2a2e"/>
<text x="165.4" y="570.0" font-size="22" font-weight="bold" fill="#9b1b1f" text-anchor="start" textLength="139.8" lengthAdjust="spacingAndGlyphs">UM xenograft</text>
<g transform="translate(-58.3,363.3)"><g transform="translate(547.0,118.7) rotate(-28)"><path d="M0,-7.25 L12.75,-7.25 A7.25,7.25 0 0 1 12.75,7.25 L0,7.25 Z" fill="#dcdcdc" stroke="#c2c2c2" stroke-width="0.8"/><path d="M0,-7.25 L-12.75,-7.25 A7.25,7.25 0 0 0 -12.75,7.25 L0,7.25 Z" fill="#819fd7" stroke="#6d8fd0" stroke-width="0.8"/></g><g transform="translate(565.7,132.5) rotate(-35.5) scale(-1,1)"><path d="M0,-7.25 L12.75,-7.25 A7.25,7.25 0 0 1 12.75,7.25 L0,7.25 Z" fill="#dcdcdc" stroke="#c2c2c2" stroke-width="0.8"/><path d="M0,-7.25 L-12.75,-7.25 A7.25,7.25 0 0 0 -12.75,7.25 L0,7.25 Z" fill="#819fd7" stroke="#6d8fd0" stroke-width="0.8"/></g><g transform="translate(559.5,151.0) rotate(-22)"><path d="M0,-7.25 L12.75,-7.25 A7.25,7.25 0 0 1 12.75,7.25 L0,7.25 Z" fill="#dcdcdc" stroke="#c2c2c2" stroke-width="0.8"/><path d="M0,-7.25 L-12.75,-7.25 A7.25,7.25 0 0 0 -12.75,7.25 L0,7.25 Z" fill="#819fd7" stroke="#6d8fd0" stroke-width="0.8"/></g></g>
<text x="477.0" y="550.6" font-size="22.5" font-weight="bold" fill="#2b78c4" text-anchor="start" textLength="47.8" lengthAdjust="spacingAndGlyphs">Drug</text>
<text x="450.5" y="577.1" font-size="22.5" font-weight="bold" fill="#2b78c4" text-anchor="start" textLength="100.8" lengthAdjust="spacingAndGlyphs">treatment</text>
<path d="M682.4,515.8 L689.9,515.8 L689.9,501 Q696,505 697.3,515.8 L697.3,545 L698.1,581.3 L689.9,575.4 L682.4,545.6 Z" fill="#565656"/><rect x="682.4" y="521.8" width="238.9" height="17.1" fill="#565656"/><rect x="694" y="524.2" width="61" height="11" fill="#ebe9e9"/><rect x="816.5" y="524.2" width="100" height="11" fill="#ebe9e9"/><line x1="696" y1="524.2" x2="696" y2="527.5" stroke="#888" stroke-width="0.6"/><line x1="700" y1="524.2" x2="700" y2="527.5" stroke="#888" stroke-width="0.6"/><line x1="704" y1="524.2" x2="704" y2="527.5" stroke="#888" stroke-width="0.6"/><line x1="708" y1="524.2" x2="708" y2="527.5" stroke="#888" stroke-width="0.6"/><line x1="712" y1="524.2" x2="712" y2="527.5" stroke="#888" stroke-width="0.6"/><line x1="716" y1="524.2" x2="716" y2="527.5" stroke="#888" stroke-width="0.6"/><line x1="720" y1="524.2" x2="720" y2="527.5" stroke="#888" stroke-width="0.6"/><line x1="724" y1="524.2" x2="724" y2="527.5" stroke="#888" stroke-width="0.6"/><line x1="728" y1="524.2" x2="728" y2="527.5" stroke="#888" stroke-width="0.6"/><line x1="732" y1="524.2" x2="732" y2="527.5" stroke="#888" stroke-width="0.6"/><line x1="736" y1="524.2" x2="736" y2="527.5" stroke="#888" stroke-width="0.6"/><line x1="740" y1="524.2" x2="740" y2="527.5" stroke="#888" stroke-width="0.6"/><line x1="744" y1="524.2" x2="744" y2="527.5" stroke="#888" stroke-width="0.6"/><line x1="748" y1="524.2" x2="748" y2="527.5" stroke="#888" stroke-width="0.6"/><line x1="752" y1="524.2" x2="752" y2="527.5" stroke="#888" stroke-width="0.6"/><line x1="818" y1="524.2" x2="818" y2="527.5" stroke="#888" stroke-width="0.6"/><line x1="822" y1="524.2" x2="822" y2="527.5" stroke="#888" stroke-width="0.6"/><line x1="826" y1="524.2" x2="826" y2="527.5" stroke="#888" stroke-width="0.6"/><line x1="830" y1="524.2" x2="830" y2="527.5" stroke="#888" stroke-width="0.6"/><line x1="834" y1="524.2" x2="834" y2="527.5" stroke="#888" stroke-width="0.6"/><line x1="838" y1="524.2" x2="838" y2="527.5" stroke="#888" stroke-width="0.6"/><line x1="842" y1="524.2" x2="842" y2="527.5" stroke="#888" stroke-width="0.6"/><line x1="846" y1="524.2" x2="846" y2="527.5" stroke="#888" stroke-width="0.6"/><line x1="850" y1="524.2" x2="850" y2="527.5" stroke="#888" stroke-width="0.6"/><line x1="854" y1="524.2" x2="854" y2="527.5" stroke="#888" stroke-width="0.6"/><line x1="858" y1="524.2" x2="858" y2="527.5" stroke="#888" stroke-width="0.6"/><line x1="862" y1="524.2" x2="862" y2="527.5" stroke="#888" stroke-width="0.6"/><line x1="866" y1="524.2" x2="866" y2="527.5" stroke="#888" stroke-width="0.6"/><line x1="870" y1="524.2" x2="870" y2="527.5" stroke="#888" stroke-width="0.6"/><line x1="874" y1="524.2" x2="874" y2="527.5" stroke="#888" stroke-width="0.6"/><line x1="878" y1="524.2" x2="878" y2="527.5" stroke="#888" stroke-width="0.6"/><line x1="882" y1="524.2" x2="882" y2="527.5" stroke="#888" stroke-width="0.6"/><line x1="886" y1="524.2" x2="886" y2="527.5" stroke="#888" stroke-width="0.6"/><line x1="890" y1="524.2" x2="890" y2="527.5" stroke="#888" stroke-width="0.6"/><line x1="894" y1="524.2" x2="894" y2="527.5" stroke="#888" stroke-width="0.6"/><line x1="898" y1="524.2" x2="898" y2="527.5" stroke="#888" stroke-width="0.6"/><line x1="902" y1="524.2" x2="902" y2="527.5" stroke="#888" stroke-width="0.6"/><line x1="906" y1="524.2" x2="906" y2="527.5" stroke="#888" stroke-width="0.6"/><line x1="910" y1="524.2" x2="910" y2="527.5" stroke="#888" stroke-width="0.6"/><line x1="914" y1="524.2" x2="914" y2="527.5" stroke="#888" stroke-width="0.6"/><path d="M743.5,515.8 Q744,503 749.4,501 L749.4,515.8 L756,515.8 Z" fill="#565656"/><path d="M755.4,540 L770.3,540 L762,576 L755.4,581.3 Z" fill="#565656"/><rect x="755.4" y="509.9" width="48" height="34.2" rx="2" fill="#5c5c5c"/><rect x="799" y="508" width="17.4" height="36" rx="1.5" fill="#4f4f4f"/><line x1="800" y1="513" x2="815.5" y2="513" stroke="#3c3c3c" stroke-width="0.8"/><line x1="800" y1="516" x2="815.5" y2="516" stroke="#3c3c3c" stroke-width="0.8"/><line x1="800" y1="519" x2="815.5" y2="519" stroke="#3c3c3c" stroke-width="0.8"/><line x1="800" y1="522" x2="815.5" y2="522" stroke="#3c3c3c" stroke-width="0.8"/><line x1="800" y1="525" x2="815.5" y2="525" stroke="#3c3c3c" stroke-width="0.8"/><line x1="800" y1="528" x2="815.5" y2="528" stroke="#3c3c3c" stroke-width="0.8"/><line x1="800" y1="531" x2="815.5" y2="531" stroke="#3c3c3c" stroke-width="0.8"/><line x1="800" y1="534" x2="815.5" y2="534" stroke="#3c3c3c" stroke-width="0.8"/><line x1="800" y1="537" x2="815.5" y2="537" stroke="#3c3c3c" stroke-width="0.8"/><line x1="800" y1="540" x2="815.5" y2="540" stroke="#3c3c3c" stroke-width="0.8"/><path d="M800,544 L812,544 L805,550 Z" fill="#4f4f4f"/><rect x="759.8" y="519.6" width="34.3" height="16.3" rx="1.5" fill="#b9d7b1"/><text x="768" y="532.3" font-size="12" font-weight="normal" fill="#2a2a2a" textLength="20.8" lengthAdjust="spacingAndGlyphs">19.0</text><rect x="762" y="514" width="6" height="2.2" fill="#2f5fa8"/><rect x="762" y="538.5" width="6" height="2.2" fill="#c8404a"/><rect x="780" y="538.5" width="6" height="2.2" fill="#e0a020"/><rect x="782" y="506" width="5" height="4" rx="1" fill="#cfcfcf"/><circle cx="825.3" cy="541.9" r="4.6" fill="#f2f2f2" stroke="#aaa" stroke-width="0.8"/><rect x="921.3" y="528.5" width="15.7" height="2.2" fill="#555"/>
<text x="686.4" y="604.1" font-size="22" font-weight="bold" fill="#9b1b1f" text-anchor="start" textLength="71.9" lengthAdjust="spacingAndGlyphs">Tumor</text>
<g transform="translate(0,0)"><path d="M138,677 Q119,685 108,697 Q100,712 125,717 Q150,716 186,705 Q200,702 212,708" fill="none" stroke="#dc9c96" stroke-width="5" stroke-linecap="round"/><path d="M138,677 Q119,685 108,697 Q100,712 125,717 Q150,716 186,705 Q200,702 212,708" fill="none" stroke="#eab4ae" stroke-width="2" stroke-linecap="round"/><path d="M150,688 Q152,698 162,699 L188,700 L190,695 L176,690 Q165,684 150,688 Z" fill="#e3a7a2"/><path d="M240,684 Q246,694 255,697 L274,698 L275,694 L262,690 Q252,683 240,684 Z" fill="#e3a7a2"/><path d="M136.2,670.3 Q140,655 149.6,648.5 Q158,640 167.8,636.4 Q180,631 192,630.9 L216.3,631.8 Q222,632 228.4,633.4 Q238,629 246.6,628.5 Q256,628 264.8,630.3 Q276,633 283,637.6 Q293,643 298.8,648.5 Q296,655 289.1,657 Q276,662 264.8,665.5 Q258,670 252.7,675.2 Q246,681 240.5,684.9 Q234,690 228.4,691 Q214,688 204.2,687.3 Q190,690 179.9,689.8 Q165,689 155.6,687.3 Q145,685 141.1,680 Q136,676 136.2,670.3 Z" fill="#e6e2df" stroke="#cdbfb5" stroke-width="1"/><path d="M137,672 Q142,660 152,652 Q150,668 165,675 Q190,678 215,672 Q232,668 245,676 Q238,688 228,691 Q214,688 204,687 Q190,690 180,690 Q165,689 156,687 Q145,685 141,680 Z" fill="#d7d0cb"/><path d="M137,670 Q140,660 150,650 Q146,662 148,680 Q142,678 137,670 Z" fill="#c9bfb6"/><ellipse cx="253" cy="624.5" rx="6" ry="4.5" fill="#dedad7" stroke="#c9c0b8" stroke-width="0.8"/><ellipse cx="245.4" cy="640" rx="6.5" ry="8.5" fill="#e3a9a6" stroke="#d49692" stroke-width="0.8"/><ellipse cx="246.5" cy="640" rx="3.2" ry="5.5" fill="#eec0bd"/><circle cx="273.3" cy="644.3" r="2.4" fill="#a3121a"/><circle cx="298" cy="649" r="1.8" fill="#e8a4a6"/></g>
<g transform="translate(281.9,0)"><path d="M138,677 Q119,685 108,697 Q100,712 125,717 Q150,716 186,705 Q200,702 212,708" fill="none" stroke="#dc9c96" stroke-width="5" stroke-linecap="round"/><path d="M138,677 Q119,685 108,697 Q100,712 125,717 Q150,716 186,705 Q200,702 212,708" fill="none" stroke="#eab4ae" stroke-width="2" stroke-linecap="round"/><path d="M150,688 Q152,698 162,699 L188,700 L190,695 L176,690 Q165,684 150,688 Z" fill="#e3a7a2"/><path d="M240,684 Q246,694 255,697 L274,698 L275,694 L262,690 Q252,683 240,684 Z" fill="#e3a7a2"/><path d="M136.2,670.3 Q140,655 149.6,648.5 Q158,640 167.8,636.4 Q180,631 192,630.9 L216.3,631.8 Q222,632 228.4,633.4 Q238,629 246.6,628.5 Q256,628 264.8,630.3 Q276,633 283,637.6 Q293,643 298.8,648.5 Q296,655 289.1,657 Q276,662 264.8,665.5 Q258,670 252.7,675.2 Q246,681 240.5,684.9 Q234,690 228.4,691 Q214,688 204.2,687.3 Q190,690 179.9,689.8 Q165,689 155.6,687.3 Q145,685 141.1,680 Q136,676 136.2,670.3 Z" fill="#e6e2df" stroke="#cdbfb5" stroke-width="1"/><path d="M137,672 Q142,660 152,652 Q150,668 165,675 Q190,678 215,672 Q232,668 245,676 Q238,688 228,691 Q214,688 204,687 Q190,690 180,690 Q165,689 156,687 Q145,685 141,680 Z" fill="#d7d0cb"/><path d="M137,670 Q140,660 150,650 Q146,662 148,680 Q142,678 137,670 Z" fill="#c9bfb6"/><ellipse cx="253" cy="624.5" rx="6" ry="4.5" fill="#dedad7" stroke="#c9c0b8" stroke-width="0.8"/><ellipse cx="245.4" cy="640" rx="6.5" ry="8.5" fill="#e3a9a6" stroke="#d49692" stroke-width="0.8"/><ellipse cx="246.5" cy="640" rx="3.2" ry="5.5" fill="#eec0bd"/><circle cx="273.3" cy="644.3" r="2.4" fill="#a3121a"/><circle cx="298" cy="649" r="1.8" fill="#e8a4a6"/></g>
<g transform="translate(575.6,0)"><path d="M138,677 Q119,685 108,697 Q100,712 125,717 Q150,716 186,705 Q200,702 212,708" fill="none" stroke="#dc9c96" stroke-width="5" stroke-linecap="round"/><path d="M138,677 Q119,685 108,697 Q100,712 125,717 Q150,716 186,705 Q200,702 212,708" fill="none" stroke="#eab4ae" stroke-width="2" stroke-linecap="round"/><path d="M150,688 Q152,698 162,699 L188,700 L190,695 L176,690 Q165,684 150,688 Z" fill="#e3a7a2"/><path d="M240,684 Q246,694 255,697 L274,698 L275,694 L262,690 Q252,683 240,684 Z" fill="#e3a7a2"/><path d="M136.2,670.3 Q140,655 149.6,648.5 Q158,640 167.8,636.4 Q180,631 192,630.9 L216.3,631.8 Q222,632 228.4,633.4 Q238,629 246.6,628.5 Q256,628 264.8,630.3 Q276,633 283,637.6 Q293,643 298.8,648.5 Q296,655 289.1,657 Q276,662 264.8,665.5 Q258,670 252.7,675.2 Q246,681 240.5,684.9 Q234,690 228.4,691 Q214,688 204.2,687.3 Q190,690 179.9,689.8 Q165,689 155.6,687.3 Q145,685 141.1,680 Q136,676 136.2,670.3 Z" fill="#e6e2df" stroke="#cdbfb5" stroke-width="1"/><path d="M137,672 Q142,660 152,652 Q150,668 165,675 Q190,678 215,672 Q232,668 245,676 Q238,688 228,691 Q214,688 204,687 Q190,690 180,690 Q165,689 156,687 Q145,685 141,680 Z" fill="#d7d0cb"/><path d="M137,670 Q140,660 150,650 Q146,662 148,680 Q142,678 137,670 Z" fill="#c9bfb6"/><path d="M136.4,672 Q122.4,662 125.4,645 Q129.4,630 146.4,629 Q164.4,629 172.4,640 Q176.4,655 166.4,668 Q150,678 136.4,672 Z" fill="#e4e0dd" stroke="#cdbfb5" stroke-width="1"/><path d="M134,672 Q130,662 140,660 Q160,664 172,660 Q168,672 150,676 Z" fill="#d6cfca"/><ellipse cx="140" cy="642" rx="7" ry="4" fill="#eceae8"/><ellipse cx="253" cy="624.5" rx="6" ry="4.5" fill="#dedad7" stroke="#c9c0b8" stroke-width="0.8"/><ellipse cx="245.4" cy="640" rx="6.5" ry="8.5" fill="#e3a9a6" stroke="#d49692" stroke-width="0.8"/><ellipse cx="246.5" cy="640" rx="3.2" ry="5.5" fill="#eec0bd"/><circle cx="273.3" cy="644.3" r="2.4" fill="#a3121a"/><circle cx="298" cy="649" r="1.8" fill="#e8a4a6"/></g>
<circle cx="723.5" cy="644.8" r="32.2" fill="none" stroke="#8f1a1e" stroke-width="3.3" stroke-dasharray="5.2 4.3"/>
<line x1="322.4" y1="671" x2="370.7" y2="671" stroke="#1a1a1a" stroke-width="3.2"/><polygon points="384.7,671 369.7,663 369.7,679" fill="#1a1a1a"/>
<line x1="603.3" y1="667.5" x2="651.3" y2="667.5" stroke="#1a1a1a" stroke-width="3.2"/><polygon points="665.3,667.5 650.3,659.5 650.3,675.5" fill="#1a1a1a"/></g>
</svg></body></html>
